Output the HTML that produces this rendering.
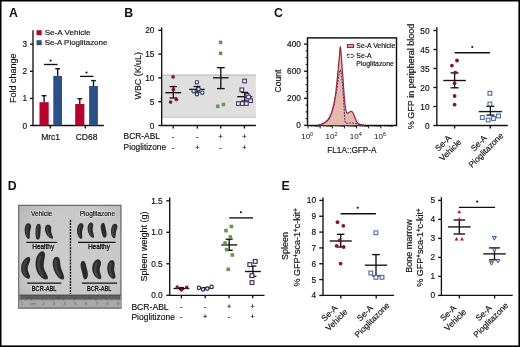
<!DOCTYPE html>
<html><head><meta charset="utf-8"><style>
html,body{margin:0;padding:0;background:#fff;width:520px;height:347px;overflow:hidden}
svg{display:block;will-change:transform}
text{font-family:"Liberation Sans", sans-serif}
</style></head><body>
<svg width="520" height="347" viewBox="0 0 520 347" font-family='"Liberation Sans", sans-serif'>
<rect width="520" height="347" fill="#fff"/>
<text x="9.00" y="17.30" font-size="12.3" text-anchor="start" font-weight="bold" fill="#111111" stroke="#111111" stroke-width="0" >A</text>
<text x="124.20" y="17.30" font-size="12.3" text-anchor="start" font-weight="bold" fill="#111111" stroke="#111111" stroke-width="0" >B</text>
<text x="273.90" y="17.30" font-size="12.3" text-anchor="start" font-weight="bold" fill="#111111" stroke="#111111" stroke-width="0" >C</text>
<text x="7.80" y="189.80" font-size="12.3" text-anchor="start" font-weight="bold" fill="#111111" stroke="#111111" stroke-width="0" >D</text>
<text x="281.60" y="189.60" font-size="12.3" text-anchor="start" font-weight="bold" fill="#111111" stroke="#111111" stroke-width="0" >E</text>
<line x1="33.00" y1="30.30" x2="33.00" y2="126.00" stroke="#111111" stroke-width="1.35" />
<line x1="30.00" y1="125.50" x2="33.00" y2="125.50" stroke="#111111" stroke-width="1.35" />
<text x="27.00" y="125.50" font-size="8.3" text-anchor="end" dominant-baseline="central" fill="#111111" stroke="#111111" stroke-width="0.16">0</text>
<line x1="30.00" y1="98.40" x2="33.00" y2="98.40" stroke="#111111" stroke-width="1.35" />
<text x="27.00" y="98.40" font-size="8.3" text-anchor="end" dominant-baseline="central" fill="#111111" stroke="#111111" stroke-width="0.16">1</text>
<line x1="30.00" y1="71.30" x2="33.00" y2="71.30" stroke="#111111" stroke-width="1.35" />
<text x="27.00" y="71.30" font-size="8.3" text-anchor="end" dominant-baseline="central" fill="#111111" stroke="#111111" stroke-width="0.16">2</text>
<line x1="30.00" y1="44.20" x2="33.00" y2="44.20" stroke="#111111" stroke-width="1.35" />
<text x="27.00" y="44.20" font-size="8.3" text-anchor="end" dominant-baseline="central" fill="#111111" stroke="#111111" stroke-width="0.16">3</text>
<line x1="32.50" y1="125.50" x2="103.90" y2="125.50" stroke="#111111" stroke-width="1.35" />
<line x1="50.30" y1="125.50" x2="50.30" y2="128.50" stroke="#111111" stroke-width="1.35" />
<line x1="85.30" y1="125.50" x2="85.30" y2="128.50" stroke="#111111" stroke-width="1.35" />
<line x1="44.10" y1="95.70" x2="44.10" y2="102.20" stroke="#111111" stroke-width="1.35" />
<line x1="41.70" y1="95.70" x2="46.50" y2="95.70" stroke="#111111" stroke-width="1.35" />
<rect x="39.50" y="102.20" width="9.20" height="23.30" fill="#b4042c" />
<line x1="57.65" y1="68.70" x2="57.65" y2="75.90" stroke="#111111" stroke-width="1.35" />
<line x1="55.25" y1="68.70" x2="60.05" y2="68.70" stroke="#111111" stroke-width="1.35" />
<rect x="53.30" y="75.90" width="8.70" height="49.60" fill="#2c4f86" />
<line x1="79.80" y1="98.70" x2="79.80" y2="104.00" stroke="#111111" stroke-width="1.35" />
<line x1="77.40" y1="98.70" x2="82.20" y2="98.70" stroke="#111111" stroke-width="1.35" />
<rect x="75.20" y="104.00" width="9.20" height="21.50" fill="#b4042c" />
<line x1="93.50" y1="80.60" x2="93.50" y2="86.00" stroke="#111111" stroke-width="1.35" />
<line x1="91.10" y1="80.60" x2="95.90" y2="80.60" stroke="#111111" stroke-width="1.35" />
<rect x="89.10" y="86.00" width="8.80" height="39.50" fill="#2c4f86" />
<line x1="44.10" y1="64.50" x2="57.60" y2="64.50" stroke="#111111" stroke-width="1.35" />
<circle cx="50.60" cy="60.60" r="1.05" fill="#111"/>
<line x1="80.10" y1="76.40" x2="93.50" y2="76.40" stroke="#111111" stroke-width="1.35" />
<circle cx="86.50" cy="72.50" r="1.05" fill="#111"/>
<text x="50.60" y="139.70" font-size="8.5" text-anchor="middle" font-weight="normal" fill="#111111" stroke="#111111" stroke-width="0.16" >Mrc1</text>
<text x="86.60" y="139.70" font-size="8.5" text-anchor="middle" font-weight="normal" fill="#111111" stroke="#111111" stroke-width="0.16" >CD68</text>
<text x="0" y="0" font-size="9.0" text-anchor="middle" dominant-baseline="central" font-weight="normal" fill="#111111" stroke="#111111" stroke-width="0.16" transform="translate(12.90 78.30) rotate(-90)" >Fold change</text>
<rect x="36.50" y="30.20" width="5.20" height="5.00" fill="#b4042c" />
<rect x="36.50" y="40.20" width="5.20" height="5.00" fill="#2c4f86" />
<text x="44.70" y="35.40" font-size="8.1" text-anchor="start" font-weight="normal" fill="#111111" stroke="#111111" stroke-width="0.16" >Se-A Vehicle</text>
<text x="44.70" y="45.40" font-size="7.95" text-anchor="start" font-weight="normal" fill="#111111" stroke="#111111" stroke-width="0.16" >Se-A Pioglitazone</text>
<rect x="162.20" y="75.00" width="93.70" height="42.50" fill="#dfdfdf" />
<line x1="162.20" y1="75.00" x2="255.90" y2="75.00" stroke="#b4b4b4" stroke-width="1.1" />
<line x1="162.20" y1="117.20" x2="255.90" y2="117.20" stroke="#c4c4c4" stroke-width="1.0" />
<line x1="161.65" y1="27.40" x2="161.65" y2="126.00" stroke="#111111" stroke-width="1.35" />
<line x1="158.30" y1="125.50" x2="161.65" y2="125.50" stroke="#111111" stroke-width="1.35" />
<text x="154.40" y="125.50" font-size="8.3" text-anchor="end" dominant-baseline="central" fill="#111111" stroke="#111111" stroke-width="0.16">0</text>
<line x1="158.30" y1="101.70" x2="161.65" y2="101.70" stroke="#111111" stroke-width="1.35" />
<text x="154.40" y="101.70" font-size="8.3" text-anchor="end" dominant-baseline="central" fill="#111111" stroke="#111111" stroke-width="0.16">5</text>
<line x1="158.30" y1="77.90" x2="161.65" y2="77.90" stroke="#111111" stroke-width="1.35" />
<text x="154.40" y="77.90" font-size="8.3" text-anchor="end" dominant-baseline="central" fill="#111111" stroke="#111111" stroke-width="0.16">10</text>
<line x1="158.30" y1="54.10" x2="161.65" y2="54.10" stroke="#111111" stroke-width="1.35" />
<text x="154.40" y="54.10" font-size="8.3" text-anchor="end" dominant-baseline="central" fill="#111111" stroke="#111111" stroke-width="0.16">15</text>
<line x1="158.30" y1="30.30" x2="161.65" y2="30.30" stroke="#111111" stroke-width="1.35" />
<text x="154.40" y="30.30" font-size="8.3" text-anchor="end" dominant-baseline="central" fill="#111111" stroke="#111111" stroke-width="0.16">20</text>
<line x1="161.15" y1="125.50" x2="255.90" y2="125.50" stroke="#111111" stroke-width="1.35" />
<line x1="173.20" y1="125.50" x2="173.20" y2="128.50" stroke="#111111" stroke-width="1.35" />
<line x1="197.30" y1="125.50" x2="197.30" y2="128.50" stroke="#111111" stroke-width="1.35" />
<line x1="220.70" y1="125.50" x2="220.70" y2="128.50" stroke="#111111" stroke-width="1.35" />
<line x1="244.40" y1="125.50" x2="244.40" y2="128.50" stroke="#111111" stroke-width="1.35" />
<text x="123.60" y="139.00" font-size="8.4" text-anchor="start" font-weight="normal" fill="#111111" stroke="#111111" stroke-width="0.16" >BCR-ABL</text>
<text x="123.60" y="149.50" font-size="8.3" text-anchor="start" font-weight="normal" fill="#111111" stroke="#111111" stroke-width="0.16" >Pioglitizone</text>
<text x="0" y="0" font-size="8" text-anchor="middle" dominant-baseline="central" font-weight="normal" fill="#111111" stroke="#111111" stroke-width="0.16" transform="translate(173.00 136.70) rotate(0)" >-</text>
<text x="0" y="0" font-size="8" text-anchor="middle" dominant-baseline="central" font-weight="normal" fill="#111111" stroke="#111111" stroke-width="0.16" transform="translate(173.00 147.00) rotate(0)" >-</text>
<text x="0" y="0" font-size="8" text-anchor="middle" dominant-baseline="central" font-weight="normal" fill="#111111" stroke="#111111" stroke-width="0.16" transform="translate(197.30 136.70) rotate(0)" >-</text>
<text x="0" y="0" font-size="8" text-anchor="middle" dominant-baseline="central" font-weight="normal" fill="#111111" stroke="#111111" stroke-width="0.16" transform="translate(197.30 147.00) rotate(0)" >+</text>
<text x="0" y="0" font-size="8" text-anchor="middle" dominant-baseline="central" font-weight="normal" fill="#111111" stroke="#111111" stroke-width="0.16" transform="translate(220.70 136.70) rotate(0)" >+</text>
<text x="0" y="0" font-size="8" text-anchor="middle" dominant-baseline="central" font-weight="normal" fill="#111111" stroke="#111111" stroke-width="0.16" transform="translate(220.70 147.00) rotate(0)" >-</text>
<text x="0" y="0" font-size="8" text-anchor="middle" dominant-baseline="central" font-weight="normal" fill="#111111" stroke="#111111" stroke-width="0.16" transform="translate(244.40 136.70) rotate(0)" >+</text>
<text x="0" y="0" font-size="8" text-anchor="middle" dominant-baseline="central" font-weight="normal" fill="#111111" stroke="#111111" stroke-width="0.16" transform="translate(244.40 147.00) rotate(0)" >+</text>
<line x1="165.40" y1="92.70" x2="181.20" y2="92.70" stroke="#111111" stroke-width="1.35" />
<line x1="173.30" y1="86.60" x2="173.30" y2="98.00" stroke="#111111" stroke-width="1.35" />
<line x1="169.55" y1="86.60" x2="177.05" y2="86.60" stroke="#111111" stroke-width="1.35" />
<line x1="169.55" y1="98.00" x2="177.05" y2="98.00" stroke="#111111" stroke-width="1.35" />
<circle cx="173.10" cy="76.80" r="1.85" fill="#8e0f36"/>
<circle cx="173.40" cy="89.60" r="1.85" fill="#8e0f36"/>
<circle cx="176.40" cy="99.40" r="1.85" fill="#8e0f36"/>
<circle cx="170.60" cy="102.00" r="1.85" fill="#8e0f36"/>
<line x1="189.25" y1="89.40" x2="204.75" y2="89.40" stroke="#111111" stroke-width="1.35" />
<line x1="197.00" y1="86.50" x2="197.00" y2="92.10" stroke="#111111" stroke-width="1.35" />
<line x1="193.55" y1="86.50" x2="200.45" y2="86.50" stroke="#111111" stroke-width="1.35" />
<line x1="193.55" y1="92.10" x2="200.45" y2="92.10" stroke="#111111" stroke-width="1.35" />
<circle cx="196.90" cy="82.20" r="1.7" fill="white" stroke="#26386a" stroke-width="1.1"/>
<circle cx="198.50" cy="89.00" r="1.7" fill="white" stroke="#26386a" stroke-width="1.1"/>
<circle cx="202.30" cy="92.70" r="1.7" fill="white" stroke="#26386a" stroke-width="1.1"/>
<circle cx="196.90" cy="94.30" r="1.7" fill="white" stroke="#26386a" stroke-width="1.1"/>
<circle cx="193.60" cy="91.20" r="1.7" fill="white" stroke="#26386a" stroke-width="1.1"/>
<line x1="213.05" y1="77.80" x2="228.55" y2="77.80" stroke="#111111" stroke-width="1.35" />
<line x1="220.80" y1="67.70" x2="220.80" y2="88.60" stroke="#111111" stroke-width="1.35" />
<line x1="216.90" y1="67.70" x2="224.70" y2="67.70" stroke="#111111" stroke-width="1.35" />
<line x1="216.90" y1="88.60" x2="224.70" y2="88.60" stroke="#111111" stroke-width="1.35" />
<rect x="218.85" y="40.65" width="3.5" height="3.5" fill="#65984f"/>
<rect x="218.85" y="51.65" width="3.5" height="3.5" fill="#65984f"/>
<rect x="215.95" y="104.55" width="3.5" height="3.5" fill="#65984f"/>
<rect x="221.65" y="102.75" width="3.5" height="3.5" fill="#65984f"/>
<line x1="237.20" y1="96.70" x2="252.20" y2="96.70" stroke="#111111" stroke-width="1.35" />
<line x1="244.70" y1="92.50" x2="244.70" y2="101.00" stroke="#111111" stroke-width="1.35" />
<line x1="241.20" y1="92.50" x2="248.20" y2="92.50" stroke="#111111" stroke-width="1.35" />
<line x1="241.20" y1="101.00" x2="248.20" y2="101.00" stroke="#111111" stroke-width="1.35" />
<rect x="242.80" y="79.20" width="3.6" height="3.6" fill="white" stroke="#4b3670" stroke-width="1.15"/>
<rect x="240.00" y="88.00" width="3.6" height="3.6" fill="white" stroke="#4b3670" stroke-width="1.15"/>
<rect x="245.30" y="93.50" width="3.6" height="3.6" fill="white" stroke="#4b3670" stroke-width="1.15"/>
<rect x="248.80" y="98.80" width="3.6" height="3.6" fill="white" stroke="#4b3670" stroke-width="1.15"/>
<rect x="236.60" y="101.80" width="3.6" height="3.6" fill="white" stroke="#4b3670" stroke-width="1.15"/>
<rect x="240.50" y="101.80" width="3.6" height="3.6" fill="white" stroke="#4b3670" stroke-width="1.15"/>
<rect x="244.60" y="101.80" width="3.6" height="3.6" fill="white" stroke="#4b3670" stroke-width="1.15"/>
<rect x="246.70" y="95.20" width="3.6" height="3.6" fill="white" stroke="#4b3670" stroke-width="1.15"/>
<text x="0" y="0" font-size="8.9" text-anchor="middle" dominant-baseline="central" font-weight="normal" fill="#111111" stroke="#111111" stroke-width="0.16" transform="translate(138.20 75.80) rotate(-90)" >WBC (K/uL)</text>
<rect x="307.5" y="37.9" width="89.0" height="87.6" fill="none" stroke="#111" stroke-width="1.4500000000000002"/>
<line x1="304.10" y1="44.10" x2="307.50" y2="44.10" stroke="#111111" stroke-width="1.35" />
<text x="300.90" y="44.10" font-size="8.3" text-anchor="end" dominant-baseline="central" fill="#111111" stroke="#111111" stroke-width="0.16">400</text>
<line x1="304.10" y1="71.20" x2="307.50" y2="71.20" stroke="#111111" stroke-width="1.35" />
<text x="300.90" y="71.20" font-size="8.3" text-anchor="end" dominant-baseline="central" fill="#111111" stroke="#111111" stroke-width="0.16">600</text>
<line x1="304.10" y1="98.30" x2="307.50" y2="98.30" stroke="#111111" stroke-width="1.35" />
<text x="300.90" y="98.30" font-size="8.3" text-anchor="end" dominant-baseline="central" fill="#111111" stroke="#111111" stroke-width="0.16">200</text>
<line x1="304.10" y1="125.40" x2="307.50" y2="125.40" stroke="#111111" stroke-width="1.35" />
<text x="300.90" y="125.40" font-size="8.3" text-anchor="end" dominant-baseline="central" fill="#111111" stroke="#111111" stroke-width="0.16">0</text>
<line x1="305.60" y1="118.62" x2="307.50" y2="118.62" stroke="#111111" stroke-width="1.0" />
<line x1="305.60" y1="111.85" x2="307.50" y2="111.85" stroke="#111111" stroke-width="1.0" />
<line x1="305.60" y1="105.08" x2="307.50" y2="105.08" stroke="#111111" stroke-width="1.0" />
<line x1="305.60" y1="91.53" x2="307.50" y2="91.53" stroke="#111111" stroke-width="1.0" />
<line x1="305.60" y1="84.75" x2="307.50" y2="84.75" stroke="#111111" stroke-width="1.0" />
<line x1="305.60" y1="77.97" x2="307.50" y2="77.97" stroke="#111111" stroke-width="1.0" />
<line x1="305.60" y1="64.43" x2="307.50" y2="64.43" stroke="#111111" stroke-width="1.0" />
<line x1="305.60" y1="57.65" x2="307.50" y2="57.65" stroke="#111111" stroke-width="1.0" />
<line x1="305.60" y1="50.88" x2="307.50" y2="50.88" stroke="#111111" stroke-width="1.0" />
<line x1="308.00" y1="125.40" x2="308.00" y2="128.40" stroke="#111111" stroke-width="1.0" />
<line x1="311.66" y1="125.40" x2="311.66" y2="126.90" stroke="#111111" stroke-width="0.6" />
<line x1="313.80" y1="125.40" x2="313.80" y2="126.90" stroke="#111111" stroke-width="0.6" />
<line x1="315.32" y1="125.40" x2="315.32" y2="126.90" stroke="#111111" stroke-width="0.6" />
<line x1="316.49" y1="125.40" x2="316.49" y2="126.90" stroke="#111111" stroke-width="0.6" />
<line x1="317.45" y1="125.40" x2="317.45" y2="126.90" stroke="#111111" stroke-width="0.6" />
<line x1="318.27" y1="125.40" x2="318.27" y2="126.90" stroke="#111111" stroke-width="0.6" />
<line x1="318.97" y1="125.40" x2="318.97" y2="126.90" stroke="#111111" stroke-width="0.6" />
<line x1="319.59" y1="125.40" x2="319.59" y2="126.90" stroke="#111111" stroke-width="0.6" />
<line x1="320.15" y1="125.40" x2="320.15" y2="128.40" stroke="#111111" stroke-width="1.0" />
<line x1="323.81" y1="125.40" x2="323.81" y2="126.90" stroke="#111111" stroke-width="0.6" />
<line x1="325.95" y1="125.40" x2="325.95" y2="126.90" stroke="#111111" stroke-width="0.6" />
<line x1="327.47" y1="125.40" x2="327.47" y2="126.90" stroke="#111111" stroke-width="0.6" />
<line x1="328.64" y1="125.40" x2="328.64" y2="126.90" stroke="#111111" stroke-width="0.6" />
<line x1="329.60" y1="125.40" x2="329.60" y2="126.90" stroke="#111111" stroke-width="0.6" />
<line x1="330.42" y1="125.40" x2="330.42" y2="126.90" stroke="#111111" stroke-width="0.6" />
<line x1="331.12" y1="125.40" x2="331.12" y2="126.90" stroke="#111111" stroke-width="0.6" />
<line x1="331.74" y1="125.40" x2="331.74" y2="126.90" stroke="#111111" stroke-width="0.6" />
<line x1="332.30" y1="125.40" x2="332.30" y2="128.40" stroke="#111111" stroke-width="1.0" />
<line x1="335.96" y1="125.40" x2="335.96" y2="126.90" stroke="#111111" stroke-width="0.6" />
<line x1="338.10" y1="125.40" x2="338.10" y2="126.90" stroke="#111111" stroke-width="0.6" />
<line x1="339.62" y1="125.40" x2="339.62" y2="126.90" stroke="#111111" stroke-width="0.6" />
<line x1="340.79" y1="125.40" x2="340.79" y2="126.90" stroke="#111111" stroke-width="0.6" />
<line x1="341.75" y1="125.40" x2="341.75" y2="126.90" stroke="#111111" stroke-width="0.6" />
<line x1="342.57" y1="125.40" x2="342.57" y2="126.90" stroke="#111111" stroke-width="0.6" />
<line x1="343.27" y1="125.40" x2="343.27" y2="126.90" stroke="#111111" stroke-width="0.6" />
<line x1="343.89" y1="125.40" x2="343.89" y2="126.90" stroke="#111111" stroke-width="0.6" />
<line x1="344.45" y1="125.40" x2="344.45" y2="128.40" stroke="#111111" stroke-width="1.0" />
<line x1="348.11" y1="125.40" x2="348.11" y2="126.90" stroke="#111111" stroke-width="0.6" />
<line x1="350.25" y1="125.40" x2="350.25" y2="126.90" stroke="#111111" stroke-width="0.6" />
<line x1="351.77" y1="125.40" x2="351.77" y2="126.90" stroke="#111111" stroke-width="0.6" />
<line x1="352.94" y1="125.40" x2="352.94" y2="126.90" stroke="#111111" stroke-width="0.6" />
<line x1="353.90" y1="125.40" x2="353.90" y2="126.90" stroke="#111111" stroke-width="0.6" />
<line x1="354.72" y1="125.40" x2="354.72" y2="126.90" stroke="#111111" stroke-width="0.6" />
<line x1="355.42" y1="125.40" x2="355.42" y2="126.90" stroke="#111111" stroke-width="0.6" />
<line x1="356.04" y1="125.40" x2="356.04" y2="126.90" stroke="#111111" stroke-width="0.6" />
<line x1="356.60" y1="125.40" x2="356.60" y2="128.40" stroke="#111111" stroke-width="1.0" />
<line x1="360.26" y1="125.40" x2="360.26" y2="126.90" stroke="#111111" stroke-width="0.6" />
<line x1="362.40" y1="125.40" x2="362.40" y2="126.90" stroke="#111111" stroke-width="0.6" />
<line x1="363.92" y1="125.40" x2="363.92" y2="126.90" stroke="#111111" stroke-width="0.6" />
<line x1="365.09" y1="125.40" x2="365.09" y2="126.90" stroke="#111111" stroke-width="0.6" />
<line x1="366.05" y1="125.40" x2="366.05" y2="126.90" stroke="#111111" stroke-width="0.6" />
<line x1="366.87" y1="125.40" x2="366.87" y2="126.90" stroke="#111111" stroke-width="0.6" />
<line x1="367.57" y1="125.40" x2="367.57" y2="126.90" stroke="#111111" stroke-width="0.6" />
<line x1="368.19" y1="125.40" x2="368.19" y2="126.90" stroke="#111111" stroke-width="0.6" />
<line x1="368.75" y1="125.40" x2="368.75" y2="128.40" stroke="#111111" stroke-width="1.0" />
<line x1="372.41" y1="125.40" x2="372.41" y2="126.90" stroke="#111111" stroke-width="0.6" />
<line x1="374.55" y1="125.40" x2="374.55" y2="126.90" stroke="#111111" stroke-width="0.6" />
<line x1="376.07" y1="125.40" x2="376.07" y2="126.90" stroke="#111111" stroke-width="0.6" />
<line x1="377.24" y1="125.40" x2="377.24" y2="126.90" stroke="#111111" stroke-width="0.6" />
<line x1="378.20" y1="125.40" x2="378.20" y2="126.90" stroke="#111111" stroke-width="0.6" />
<line x1="379.02" y1="125.40" x2="379.02" y2="126.90" stroke="#111111" stroke-width="0.6" />
<line x1="379.72" y1="125.40" x2="379.72" y2="126.90" stroke="#111111" stroke-width="0.6" />
<line x1="380.34" y1="125.40" x2="380.34" y2="126.90" stroke="#111111" stroke-width="0.6" />
<line x1="380.90" y1="125.40" x2="380.90" y2="128.40" stroke="#111111" stroke-width="1.0" />
<line x1="384.56" y1="125.40" x2="384.56" y2="126.90" stroke="#111111" stroke-width="0.6" />
<line x1="386.70" y1="125.40" x2="386.70" y2="126.90" stroke="#111111" stroke-width="0.6" />
<line x1="388.22" y1="125.40" x2="388.22" y2="126.90" stroke="#111111" stroke-width="0.6" />
<line x1="389.39" y1="125.40" x2="389.39" y2="126.90" stroke="#111111" stroke-width="0.6" />
<line x1="390.35" y1="125.40" x2="390.35" y2="126.90" stroke="#111111" stroke-width="0.6" />
<line x1="391.17" y1="125.40" x2="391.17" y2="126.90" stroke="#111111" stroke-width="0.6" />
<line x1="391.87" y1="125.40" x2="391.87" y2="126.90" stroke="#111111" stroke-width="0.6" />
<line x1="392.49" y1="125.40" x2="392.49" y2="126.90" stroke="#111111" stroke-width="0.6" />
<text x="307.20" y="139.3" font-size="8" text-anchor="middle" fill="#111111">10<tspan font-size="5.5" dy="-3.2">0</tspan></text>
<text x="331.50" y="139.3" font-size="8" text-anchor="middle" fill="#111111">10<tspan font-size="5.5" dy="-3.2">2</tspan></text>
<text x="355.80" y="139.3" font-size="8" text-anchor="middle" fill="#111111">10<tspan font-size="5.5" dy="-3.2">4</tspan></text>
<text x="380.10" y="139.3" font-size="8" text-anchor="middle" fill="#111111">10<tspan font-size="5.5" dy="-3.2">6</tspan></text>
<text x="0" y="0" font-size="9.1" text-anchor="middle" fill="#111111" stroke="#111111" stroke-width="0.16" transform="translate(351.9 152.8) scale(0.905 1)">FL1A::GFP-A</text>
<text x="0" y="0" font-size="8.5" text-anchor="middle" dominant-baseline="central" font-weight="normal" fill="#111111" stroke="#111111" stroke-width="0.16" transform="translate(277.60 81.10) rotate(-90)" >Count</text>
<path d="M317.50,125.00 C318.00,124.95 319.53,124.93 320.50,124.70 C321.47,124.47 322.42,124.12 323.30,123.60 C324.18,123.08 324.92,122.40 325.80,121.60 C326.68,120.80 327.70,120.15 328.60,118.80 C329.50,117.45 330.40,115.63 331.20,113.50 C332.00,111.37 332.77,108.58 333.40,106.00 C334.03,103.42 334.57,100.50 335.00,98.00 C335.43,95.50 335.70,93.50 336.00,91.00 C336.30,88.50 336.53,85.67 336.80,83.00 C337.07,80.33 337.32,77.83 337.60,75.00 C337.88,72.17 338.20,69.17 338.50,66.00 C338.80,62.83 339.17,58.75 339.40,56.00 C339.63,53.25 339.75,51.07 339.90,49.50 C340.05,47.93 340.15,46.60 340.30,46.60 C340.45,46.60 340.63,47.93 340.80,49.50 C340.97,51.07 341.10,53.25 341.30,56.00 C341.50,58.75 341.75,62.67 342.00,66.00 C342.25,69.33 342.55,72.67 342.80,76.00 C343.05,79.33 343.27,82.67 343.50,86.00 C343.73,89.33 343.97,93.08 344.20,96.00 C344.43,98.92 344.65,101.25 344.90,103.50 C345.15,105.75 345.38,107.95 345.70,109.50 C346.02,111.05 346.38,112.22 346.80,112.80 C347.22,113.38 347.73,113.13 348.20,113.00 C348.67,112.87 349.17,112.28 349.60,112.00 C350.03,111.72 350.40,111.37 350.80,111.30 C351.20,111.23 351.58,111.23 352.00,111.60 C352.42,111.97 352.88,112.68 353.30,113.50 C353.72,114.32 354.12,115.53 354.50,116.50 C354.88,117.47 355.18,118.38 355.60,119.30 C356.02,120.22 356.50,121.25 357.00,122.00 C357.50,122.75 357.93,123.35 358.60,123.80 C359.27,124.25 360.10,124.50 361.00,124.70 C361.90,124.90 363.50,124.95 364.00,125.00 L364,125.3 L317.5,125.3 Z" fill="#e6b8ad" stroke="none"/>
<path d="M318.50,124.90 C319.00,124.83 320.45,124.83 321.50,124.50 C322.55,124.17 323.75,123.57 324.80,122.90 C325.85,122.23 326.90,121.52 327.80,120.50 C328.70,119.48 329.45,118.30 330.20,116.80 C330.95,115.30 331.67,113.47 332.30,111.50 C332.93,109.53 333.47,107.42 334.00,105.00 C334.53,102.58 335.03,99.60 335.50,97.00 C335.97,94.40 336.38,92.15 336.80,89.40 C337.22,86.65 337.63,83.07 338.00,80.50 C338.37,77.93 338.70,75.65 339.00,74.00 C339.30,72.35 339.58,71.27 339.80,70.60 C340.02,69.93 340.12,69.85 340.30,70.00 C340.48,70.15 340.68,70.50 340.90,71.50 C341.12,72.50 341.37,74.25 341.60,76.00 C341.83,77.75 342.08,79.77 342.30,82.00 C342.52,84.23 342.70,86.57 342.90,89.40 C343.10,92.23 343.30,95.90 343.50,99.00 C343.70,102.10 343.93,105.25 344.10,108.00 C344.27,110.75 344.37,113.42 344.50,115.50 C344.63,117.58 344.72,119.28 344.90,120.50 C345.08,121.72 345.25,122.33 345.60,122.80 C345.95,123.27 346.27,123.27 347.00,123.30 C347.73,123.33 349.00,123.05 350.00,123.00 C351.00,122.95 352.00,122.90 353.00,123.00 C354.00,123.10 355.00,123.37 356.00,123.60 C357.00,123.83 358.00,124.18 359.00,124.40 C360.00,124.62 361.50,124.82 362.00,124.90" fill="none" stroke="#2c3a74" stroke-width="1.1" stroke-dasharray="1.8,1.2"/>
<path d="M317.50,125.00 C318.00,124.95 319.53,124.93 320.50,124.70 C321.47,124.47 322.42,124.12 323.30,123.60 C324.18,123.08 324.92,122.40 325.80,121.60 C326.68,120.80 327.70,120.15 328.60,118.80 C329.50,117.45 330.40,115.63 331.20,113.50 C332.00,111.37 332.77,108.58 333.40,106.00 C334.03,103.42 334.57,100.50 335.00,98.00 C335.43,95.50 335.70,93.50 336.00,91.00 C336.30,88.50 336.53,85.67 336.80,83.00 C337.07,80.33 337.32,77.83 337.60,75.00 C337.88,72.17 338.20,69.17 338.50,66.00 C338.80,62.83 339.17,58.75 339.40,56.00 C339.63,53.25 339.75,51.07 339.90,49.50 C340.05,47.93 340.15,46.60 340.30,46.60 C340.45,46.60 340.63,47.93 340.80,49.50 C340.97,51.07 341.10,53.25 341.30,56.00 C341.50,58.75 341.75,62.67 342.00,66.00 C342.25,69.33 342.55,72.67 342.80,76.00 C343.05,79.33 343.27,82.67 343.50,86.00 C343.73,89.33 343.97,93.08 344.20,96.00 C344.43,98.92 344.65,101.25 344.90,103.50 C345.15,105.75 345.38,107.95 345.70,109.50 C346.02,111.05 346.38,112.22 346.80,112.80 C347.22,113.38 347.73,113.13 348.20,113.00 C348.67,112.87 349.17,112.28 349.60,112.00 C350.03,111.72 350.40,111.37 350.80,111.30 C351.20,111.23 351.58,111.23 352.00,111.60 C352.42,111.97 352.88,112.68 353.30,113.50 C353.72,114.32 354.12,115.53 354.50,116.50 C354.88,117.47 355.18,118.38 355.60,119.30 C356.02,120.22 356.50,121.25 357.00,122.00 C357.50,122.75 357.93,123.35 358.60,123.80 C359.27,124.25 360.10,124.50 361.00,124.70 C361.90,124.90 363.50,124.95 364.00,125.00" fill="none" stroke="#9c2440" stroke-width="1.2"/>
<rect x="347.4" y="44.6" width="6.2" height="2.8" fill="#e8b6b4" stroke="#8e1f38" stroke-width="1.1"/>
<rect x="347.3" y="54.4" width="6.4" height="3.0" fill="none" stroke="#2c3a74" stroke-width="1.0" stroke-dasharray="2.2,1.2"/>
<text x="356.30" y="47.90" font-size="6.9" text-anchor="start" font-weight="normal" fill="#111111" stroke="#111111" stroke-width="0.16" >Se-A Vehicle</text>
<text x="356.30" y="57.50" font-size="6.9" text-anchor="start" font-weight="normal" fill="#111111" stroke="#111111" stroke-width="0.16" >Se-A</text>
<text x="356.30" y="65.70" font-size="6.9" text-anchor="start" font-weight="normal" fill="#111111" stroke="#111111" stroke-width="0.16" >Pioglitazone</text>
<line x1="436.85" y1="27.30" x2="436.85" y2="126.00" stroke="#111111" stroke-width="1.35" />
<line x1="433.40" y1="125.50" x2="436.85" y2="125.50" stroke="#111111" stroke-width="1.35" />
<text x="429.50" y="125.50" font-size="8.3" text-anchor="end" dominant-baseline="central" fill="#111111" stroke="#111111" stroke-width="0.16">0</text>
<line x1="433.40" y1="106.50" x2="436.85" y2="106.50" stroke="#111111" stroke-width="1.35" />
<text x="429.50" y="106.50" font-size="8.3" text-anchor="end" dominant-baseline="central" fill="#111111" stroke="#111111" stroke-width="0.16">10</text>
<line x1="433.40" y1="87.50" x2="436.85" y2="87.50" stroke="#111111" stroke-width="1.35" />
<text x="429.50" y="87.50" font-size="8.3" text-anchor="end" dominant-baseline="central" fill="#111111" stroke="#111111" stroke-width="0.16">20</text>
<line x1="433.40" y1="68.50" x2="436.85" y2="68.50" stroke="#111111" stroke-width="1.35" />
<text x="429.50" y="68.50" font-size="8.3" text-anchor="end" dominant-baseline="central" fill="#111111" stroke="#111111" stroke-width="0.16">35</text>
<line x1="433.40" y1="49.50" x2="436.85" y2="49.50" stroke="#111111" stroke-width="1.35" />
<text x="429.50" y="49.50" font-size="8.3" text-anchor="end" dominant-baseline="central" fill="#111111" stroke="#111111" stroke-width="0.16">45</text>
<line x1="433.40" y1="30.50" x2="436.85" y2="30.50" stroke="#111111" stroke-width="1.35" />
<text x="429.50" y="30.50" font-size="8.3" text-anchor="end" dominant-baseline="central" fill="#111111" stroke="#111111" stroke-width="0.16">50</text>
<line x1="436.35" y1="125.50" x2="507.80" y2="125.50" stroke="#111111" stroke-width="1.35" />
<line x1="454.60" y1="125.50" x2="454.60" y2="128.50" stroke="#111111" stroke-width="1.35" />
<line x1="490.20" y1="125.50" x2="490.20" y2="128.50" stroke="#111111" stroke-width="1.35" />
<text x="0" y="0" font-size="9.0" text-anchor="middle" dominant-baseline="central" font-weight="normal" fill="#111111" stroke="#111111" stroke-width="0.16" transform="translate(411.30 76.50) rotate(-90)" >% GFP in peripheral blood</text>
<line x1="443.35" y1="80.50" x2="465.85" y2="80.50" stroke="#111111" stroke-width="1.35" />
<line x1="454.60" y1="72.90" x2="454.60" y2="87.80" stroke="#111111" stroke-width="1.35" />
<line x1="450.60" y1="72.90" x2="458.60" y2="72.90" stroke="#111111" stroke-width="1.35" />
<line x1="450.60" y1="87.80" x2="458.60" y2="87.80" stroke="#111111" stroke-width="1.35" />
<circle cx="451.90" cy="65.60" r="1.9" fill="#8e0f36"/>
<circle cx="457.00" cy="60.50" r="1.9" fill="#8e0f36"/>
<circle cx="455.30" cy="72.60" r="1.9" fill="#8e0f36"/>
<circle cx="454.60" cy="83.30" r="1.9" fill="#8e0f36"/>
<circle cx="454.60" cy="96.00" r="1.9" fill="#8e0f36"/>
<circle cx="454.60" cy="104.70" r="1.9" fill="#8e0f36"/>
<line x1="478.80" y1="111.60" x2="502.00" y2="111.60" stroke="#111111" stroke-width="1.35" />
<line x1="490.40" y1="106.40" x2="490.40" y2="115.10" stroke="#111111" stroke-width="1.35" />
<line x1="486.40" y1="106.40" x2="494.40" y2="106.40" stroke="#111111" stroke-width="1.35" />
<line x1="486.40" y1="115.10" x2="494.40" y2="115.10" stroke="#111111" stroke-width="1.35" />
<rect x="488.00" y="91.40" width="3.8" height="3.8" fill="white" stroke="#45659c" stroke-width="1.05"/>
<rect x="488.00" y="102.10" width="3.8" height="3.8" fill="white" stroke="#45659c" stroke-width="1.05"/>
<rect x="480.40" y="115.60" width="3.8" height="3.8" fill="white" stroke="#45659c" stroke-width="1.05"/>
<rect x="486.30" y="118.10" width="3.8" height="3.8" fill="white" stroke="#45659c" stroke-width="1.05"/>
<rect x="491.60" y="116.60" width="3.8" height="3.8" fill="white" stroke="#45659c" stroke-width="1.05"/>
<rect x="496.60" y="114.10" width="3.8" height="3.8" fill="white" stroke="#45659c" stroke-width="1.05"/>
<line x1="454.60" y1="52.70" x2="489.90" y2="52.70" stroke="#111111" stroke-width="1.35" />
<circle cx="472.25" cy="47.00" r="1.05" fill="#111"/>
<text x="0" y="0" font-size="8.3" text-anchor="middle" dominant-baseline="central" font-weight="normal" fill="#111111" stroke="#111111" stroke-width="0.16" transform="translate(443.00 143.10) rotate(-45)" >Se-A</text>
<text x="0" y="0" font-size="8.3" text-anchor="middle" dominant-baseline="central" font-weight="normal" fill="#111111" stroke="#111111" stroke-width="0.16" transform="translate(450.20 150.00) rotate(-45)" >Vehicle</text>
<text x="0" y="0" font-size="8.3" text-anchor="middle" dominant-baseline="central" font-weight="normal" fill="#111111" stroke="#111111" stroke-width="0.16" transform="translate(478.60 143.10) rotate(-45)" >Se-A</text>
<text x="0" y="0" font-size="8.3" text-anchor="middle" dominant-baseline="central" font-weight="normal" fill="#111111" stroke="#111111" stroke-width="0.16" transform="translate(485.80 150.00) rotate(-45)" >Pioglitazone</text>

<defs>
<radialGradient id="pg" cx="0.55" cy="0.5" r="0.8">
<stop offset="0" stop-color="#cdcdcd"/><stop offset="0.6" stop-color="#c7c7c7"/><stop offset="1" stop-color="#b2b2b2"/>
</radialGradient>
<filter id="bl" x="-30%" y="-30%" width="160%" height="160%"><feGaussianBlur stdDeviation="0.55"/></filter>
<filter id="bl2" x="-10%" y="-10%" width="120%" height="120%"><feGaussianBlur stdDeviation="0.35"/></filter>
</defs>
<rect x="18.1" y="204.8" width="103.4" height="104.0" fill="url(#pg)"/>
<rect x="18.7" y="205.4" width="102.2" height="102.8" fill="none" stroke="#6e6e6e" stroke-width="1.2"/>

<g filter="url(#bl2)">
<rect x="19.3" y="294.6" width="101.6" height="13.4" fill="#a9a9a9"/>
<rect x="19.3" y="294.6" width="101.6" height="1.5" fill="#505050"/>
<rect x="19.3" y="296.1" width="101.6" height="4.1" fill="#7e7e7e"/>
<rect x="19.3" y="306.9" width="101.6" height="1.2" fill="#8a8a8a"/>
<line x1="21.00" y1="296.10" x2="21.00" y2="300.30" stroke="#3a3a3a" stroke-width="0.6" />
<line x1="22.07" y1="296.10" x2="22.07" y2="298.90" stroke="#3a3a3a" stroke-width="0.6" />
<line x1="23.14" y1="296.10" x2="23.14" y2="298.90" stroke="#3a3a3a" stroke-width="0.6" />
<line x1="24.21" y1="296.10" x2="24.21" y2="298.90" stroke="#3a3a3a" stroke-width="0.6" />
<line x1="25.28" y1="296.10" x2="25.28" y2="298.90" stroke="#3a3a3a" stroke-width="0.6" />
<line x1="26.35" y1="296.10" x2="26.35" y2="299.50" stroke="#3a3a3a" stroke-width="0.6" />
<line x1="27.42" y1="296.10" x2="27.42" y2="298.90" stroke="#3a3a3a" stroke-width="0.6" />
<line x1="28.49" y1="296.10" x2="28.49" y2="298.90" stroke="#3a3a3a" stroke-width="0.6" />
<line x1="29.56" y1="296.10" x2="29.56" y2="298.90" stroke="#3a3a3a" stroke-width="0.6" />
<line x1="30.63" y1="296.10" x2="30.63" y2="298.90" stroke="#3a3a3a" stroke-width="0.6" />
<line x1="31.70" y1="296.10" x2="31.70" y2="300.30" stroke="#3a3a3a" stroke-width="0.6" />
<line x1="32.77" y1="296.10" x2="32.77" y2="298.90" stroke="#3a3a3a" stroke-width="0.6" />
<line x1="33.84" y1="296.10" x2="33.84" y2="298.90" stroke="#3a3a3a" stroke-width="0.6" />
<line x1="34.91" y1="296.10" x2="34.91" y2="298.90" stroke="#3a3a3a" stroke-width="0.6" />
<line x1="35.98" y1="296.10" x2="35.98" y2="298.90" stroke="#3a3a3a" stroke-width="0.6" />
<line x1="37.05" y1="296.10" x2="37.05" y2="299.50" stroke="#3a3a3a" stroke-width="0.6" />
<line x1="38.12" y1="296.10" x2="38.12" y2="298.90" stroke="#3a3a3a" stroke-width="0.6" />
<line x1="39.19" y1="296.10" x2="39.19" y2="298.90" stroke="#3a3a3a" stroke-width="0.6" />
<line x1="40.26" y1="296.10" x2="40.26" y2="298.90" stroke="#3a3a3a" stroke-width="0.6" />
<line x1="41.33" y1="296.10" x2="41.33" y2="298.90" stroke="#3a3a3a" stroke-width="0.6" />
<line x1="42.40" y1="296.10" x2="42.40" y2="300.30" stroke="#3a3a3a" stroke-width="0.6" />
<line x1="43.47" y1="296.10" x2="43.47" y2="298.90" stroke="#3a3a3a" stroke-width="0.6" />
<line x1="44.54" y1="296.10" x2="44.54" y2="298.90" stroke="#3a3a3a" stroke-width="0.6" />
<line x1="45.61" y1="296.10" x2="45.61" y2="298.90" stroke="#3a3a3a" stroke-width="0.6" />
<line x1="46.68" y1="296.10" x2="46.68" y2="298.90" stroke="#3a3a3a" stroke-width="0.6" />
<line x1="47.75" y1="296.10" x2="47.75" y2="299.50" stroke="#3a3a3a" stroke-width="0.6" />
<line x1="48.82" y1="296.10" x2="48.82" y2="298.90" stroke="#3a3a3a" stroke-width="0.6" />
<line x1="49.89" y1="296.10" x2="49.89" y2="298.90" stroke="#3a3a3a" stroke-width="0.6" />
<line x1="50.96" y1="296.10" x2="50.96" y2="298.90" stroke="#3a3a3a" stroke-width="0.6" />
<line x1="52.03" y1="296.10" x2="52.03" y2="298.90" stroke="#3a3a3a" stroke-width="0.6" />
<line x1="53.10" y1="296.10" x2="53.10" y2="300.30" stroke="#3a3a3a" stroke-width="0.6" />
<line x1="54.17" y1="296.10" x2="54.17" y2="298.90" stroke="#3a3a3a" stroke-width="0.6" />
<line x1="55.24" y1="296.10" x2="55.24" y2="298.90" stroke="#3a3a3a" stroke-width="0.6" />
<line x1="56.31" y1="296.10" x2="56.31" y2="298.90" stroke="#3a3a3a" stroke-width="0.6" />
<line x1="57.38" y1="296.10" x2="57.38" y2="298.90" stroke="#3a3a3a" stroke-width="0.6" />
<line x1="58.45" y1="296.10" x2="58.45" y2="299.50" stroke="#3a3a3a" stroke-width="0.6" />
<line x1="59.52" y1="296.10" x2="59.52" y2="298.90" stroke="#3a3a3a" stroke-width="0.6" />
<line x1="60.59" y1="296.10" x2="60.59" y2="298.90" stroke="#3a3a3a" stroke-width="0.6" />
<line x1="61.66" y1="296.10" x2="61.66" y2="298.90" stroke="#3a3a3a" stroke-width="0.6" />
<line x1="62.73" y1="296.10" x2="62.73" y2="298.90" stroke="#3a3a3a" stroke-width="0.6" />
<line x1="63.80" y1="296.10" x2="63.80" y2="300.30" stroke="#3a3a3a" stroke-width="0.6" />
<line x1="64.87" y1="296.10" x2="64.87" y2="298.90" stroke="#3a3a3a" stroke-width="0.6" />
<line x1="65.94" y1="296.10" x2="65.94" y2="298.90" stroke="#3a3a3a" stroke-width="0.6" />
<line x1="67.01" y1="296.10" x2="67.01" y2="298.90" stroke="#3a3a3a" stroke-width="0.6" />
<line x1="68.08" y1="296.10" x2="68.08" y2="298.90" stroke="#3a3a3a" stroke-width="0.6" />
<line x1="69.15" y1="296.10" x2="69.15" y2="299.50" stroke="#3a3a3a" stroke-width="0.6" />
<line x1="70.22" y1="296.10" x2="70.22" y2="298.90" stroke="#3a3a3a" stroke-width="0.6" />
<line x1="71.29" y1="296.10" x2="71.29" y2="298.90" stroke="#3a3a3a" stroke-width="0.6" />
<line x1="72.36" y1="296.10" x2="72.36" y2="298.90" stroke="#3a3a3a" stroke-width="0.6" />
<line x1="73.43" y1="296.10" x2="73.43" y2="298.90" stroke="#3a3a3a" stroke-width="0.6" />
<line x1="74.50" y1="296.10" x2="74.50" y2="300.30" stroke="#3a3a3a" stroke-width="0.6" />
<line x1="75.57" y1="296.10" x2="75.57" y2="298.90" stroke="#3a3a3a" stroke-width="0.6" />
<line x1="76.64" y1="296.10" x2="76.64" y2="298.90" stroke="#3a3a3a" stroke-width="0.6" />
<line x1="77.71" y1="296.10" x2="77.71" y2="298.90" stroke="#3a3a3a" stroke-width="0.6" />
<line x1="78.78" y1="296.10" x2="78.78" y2="298.90" stroke="#3a3a3a" stroke-width="0.6" />
<line x1="79.85" y1="296.10" x2="79.85" y2="299.50" stroke="#3a3a3a" stroke-width="0.6" />
<line x1="80.92" y1="296.10" x2="80.92" y2="298.90" stroke="#3a3a3a" stroke-width="0.6" />
<line x1="81.99" y1="296.10" x2="81.99" y2="298.90" stroke="#3a3a3a" stroke-width="0.6" />
<line x1="83.06" y1="296.10" x2="83.06" y2="298.90" stroke="#3a3a3a" stroke-width="0.6" />
<line x1="84.13" y1="296.10" x2="84.13" y2="298.90" stroke="#3a3a3a" stroke-width="0.6" />
<line x1="85.20" y1="296.10" x2="85.20" y2="300.30" stroke="#3a3a3a" stroke-width="0.6" />
<line x1="86.27" y1="296.10" x2="86.27" y2="298.90" stroke="#3a3a3a" stroke-width="0.6" />
<line x1="87.34" y1="296.10" x2="87.34" y2="298.90" stroke="#3a3a3a" stroke-width="0.6" />
<line x1="88.41" y1="296.10" x2="88.41" y2="298.90" stroke="#3a3a3a" stroke-width="0.6" />
<line x1="89.48" y1="296.10" x2="89.48" y2="298.90" stroke="#3a3a3a" stroke-width="0.6" />
<line x1="90.55" y1="296.10" x2="90.55" y2="299.50" stroke="#3a3a3a" stroke-width="0.6" />
<line x1="91.62" y1="296.10" x2="91.62" y2="298.90" stroke="#3a3a3a" stroke-width="0.6" />
<line x1="92.69" y1="296.10" x2="92.69" y2="298.90" stroke="#3a3a3a" stroke-width="0.6" />
<line x1="93.76" y1="296.10" x2="93.76" y2="298.90" stroke="#3a3a3a" stroke-width="0.6" />
<line x1="94.83" y1="296.10" x2="94.83" y2="298.90" stroke="#3a3a3a" stroke-width="0.6" />
<line x1="95.90" y1="296.10" x2="95.90" y2="300.30" stroke="#3a3a3a" stroke-width="0.6" />
<line x1="96.97" y1="296.10" x2="96.97" y2="298.90" stroke="#3a3a3a" stroke-width="0.6" />
<line x1="98.04" y1="296.10" x2="98.04" y2="298.90" stroke="#3a3a3a" stroke-width="0.6" />
<line x1="99.11" y1="296.10" x2="99.11" y2="298.90" stroke="#3a3a3a" stroke-width="0.6" />
<line x1="100.18" y1="296.10" x2="100.18" y2="298.90" stroke="#3a3a3a" stroke-width="0.6" />
<line x1="101.25" y1="296.10" x2="101.25" y2="299.50" stroke="#3a3a3a" stroke-width="0.6" />
<line x1="102.32" y1="296.10" x2="102.32" y2="298.90" stroke="#3a3a3a" stroke-width="0.6" />
<line x1="103.39" y1="296.10" x2="103.39" y2="298.90" stroke="#3a3a3a" stroke-width="0.6" />
<line x1="104.46" y1="296.10" x2="104.46" y2="298.90" stroke="#3a3a3a" stroke-width="0.6" />
<line x1="105.53" y1="296.10" x2="105.53" y2="298.90" stroke="#3a3a3a" stroke-width="0.6" />
<line x1="106.60" y1="296.10" x2="106.60" y2="300.30" stroke="#3a3a3a" stroke-width="0.6" />
<line x1="107.67" y1="296.10" x2="107.67" y2="298.90" stroke="#3a3a3a" stroke-width="0.6" />
<line x1="108.74" y1="296.10" x2="108.74" y2="298.90" stroke="#3a3a3a" stroke-width="0.6" />
<line x1="109.81" y1="296.10" x2="109.81" y2="298.90" stroke="#3a3a3a" stroke-width="0.6" />
<line x1="110.88" y1="296.10" x2="110.88" y2="298.90" stroke="#3a3a3a" stroke-width="0.6" />
<line x1="111.95" y1="296.10" x2="111.95" y2="299.50" stroke="#3a3a3a" stroke-width="0.6" />
<line x1="113.02" y1="296.10" x2="113.02" y2="298.90" stroke="#3a3a3a" stroke-width="0.6" />
<line x1="114.09" y1="296.10" x2="114.09" y2="298.90" stroke="#3a3a3a" stroke-width="0.6" />
<line x1="115.16" y1="296.10" x2="115.16" y2="298.90" stroke="#3a3a3a" stroke-width="0.6" />
<line x1="116.23" y1="296.10" x2="116.23" y2="298.90" stroke="#3a3a3a" stroke-width="0.6" />
<line x1="117.30" y1="296.10" x2="117.30" y2="300.30" stroke="#3a3a3a" stroke-width="0.6" />
<line x1="118.37" y1="296.10" x2="118.37" y2="298.90" stroke="#3a3a3a" stroke-width="0.6" />
<line x1="119.44" y1="296.10" x2="119.44" y2="298.90" stroke="#3a3a3a" stroke-width="0.6" />
<text x="22.00" y="305.0" font-size="4.4" text-anchor="middle" fill="#5a5a5a">1</text>
<text x="33.00" y="305.0" font-size="4.4" text-anchor="middle" fill="#5a5a5a">cm</text>
<text x="43.40" y="305.0" font-size="4.4" text-anchor="middle" fill="#5a5a5a">2</text>
<text x="54.10" y="305.0" font-size="4.4" text-anchor="middle" fill="#5a5a5a">3</text>
<text x="64.80" y="305.0" font-size="4.4" text-anchor="middle" fill="#5a5a5a">4</text>
<text x="75.50" y="305.0" font-size="4.4" text-anchor="middle" fill="#5a5a5a">5</text>
<text x="86.20" y="305.0" font-size="4.4" text-anchor="middle" fill="#5a5a5a">6</text>
<text x="96.90" y="305.0" font-size="4.4" text-anchor="middle" fill="#5a5a5a">7</text>
<text x="107.60" y="305.0" font-size="4.4" text-anchor="middle" fill="#5a5a5a">8</text>
<text x="118.30" y="305.0" font-size="4.4" text-anchor="middle" fill="#5a5a5a">9</text>
</g>
<path d="M29.60,223.50 L27.86,223.25 L27.08,223.58 L26.51,224.04 L26.06,224.56 L25.70,225.13 L25.41,225.73 L25.18,226.35 L25.00,226.99 L24.87,227.63 L24.77,228.28 L24.71,228.94 L24.68,229.59 L24.68,230.24 L24.70,230.90 L24.75,231.55 L24.81,232.19 L24.91,232.84 L25.03,233.48 L25.18,234.11 L25.36,234.74 L25.58,235.37 L25.83,235.98 L26.12,236.58 L26.46,237.17 L26.86,237.73 L27.32,238.27 L27.89,238.75 L29.00,239.00 L29.00,239.00 L29.63,238.07 L29.76,237.39 L29.82,236.76 L29.85,236.16 L29.86,235.59 L29.87,235.04 L29.87,234.51 L29.88,233.99 L29.89,233.49 L29.91,232.99 L29.94,232.51 L29.98,232.03 L30.03,231.56 L30.10,231.10 L30.18,230.65 L30.28,230.21 L30.39,229.76 L30.51,229.33 L30.63,228.89 L30.75,228.46 L30.87,228.02 L30.97,227.57 L31.06,227.11 L31.11,226.62 L31.11,226.09 L31.02,225.50 L30.78,224.79 L29.60,223.50 Z" fill="#2a2a2a" filter="url(#bl)"/>
<path d="M27.18,225.02 L26.96,225.60 L26.76,226.18 L26.57,226.76 L26.41,227.35 L26.27,227.94 L26.15,228.54 L26.06,229.13 L25.98,229.73 L25.92,230.34 L25.89,230.94 L25.88,231.55 L25.88,232.16 L25.91,232.77 L25.96,233.38 L26.04,234.00 L26.13,234.62 L26.24,235.23 L26.38,235.85 L26.53,236.47 L26.71,237.09 L28.36,236.60 L28.20,236.03 L28.06,235.46 L27.94,234.90 L27.83,234.33 L27.75,233.77 L27.68,233.21 L27.64,232.66 L27.61,232.11 L27.60,231.56 L27.62,231.01 L27.65,230.46 L27.70,229.92 L27.77,229.38 L27.85,228.84 L27.96,228.31 L28.09,227.78 L28.23,227.25 L28.40,226.72 L28.58,226.20 L28.78,225.67 Z" fill="#5a5a5a" opacity="0.55" filter="url(#bl)"/>
<path d="M39.00,223.80 L37.67,224.10 L37.14,224.57 L36.77,225.08 L36.49,225.61 L36.26,226.15 L36.09,226.71 L35.95,227.27 L35.84,227.84 L35.75,228.42 L35.68,229.00 L35.62,229.58 L35.57,230.16 L35.54,230.75 L35.50,231.34 L35.48,231.94 L35.46,232.53 L35.45,233.13 L35.45,233.73 L35.46,234.33 L35.50,234.93 L35.55,235.54 L35.63,236.14 L35.74,236.75 L35.89,237.36 L36.10,237.96 L36.40,238.56 L36.83,239.16 L38.00,239.70 L38.00,239.70 L39.10,239.04 L39.48,238.43 L39.73,237.84 L39.90,237.25 L40.03,236.68 L40.13,236.10 L40.20,235.54 L40.26,234.97 L40.31,234.41 L40.35,233.86 L40.38,233.30 L40.42,232.75 L40.45,232.20 L40.50,231.66 L40.54,231.11 L40.59,230.57 L40.64,230.04 L40.69,229.50 L40.74,228.97 L40.78,228.44 L40.80,227.90 L40.81,227.37 L40.79,226.83 L40.74,226.29 L40.64,225.74 L40.45,225.17 L40.12,224.57 L39.00,223.80 Z" fill="#2a2a2a" filter="url(#bl)"/>
<path d="M37.23,225.73 L37.14,226.29 L37.06,226.84 L36.99,227.41 L36.92,227.97 L36.85,228.54 L36.79,229.11 L36.74,229.68 L36.69,230.26 L36.64,230.83 L36.60,231.41 L36.57,231.99 L36.54,232.58 L36.52,233.17 L36.50,233.75 L36.49,234.35 L36.48,234.94 L36.48,235.54 L36.48,236.14 L36.49,236.74 L36.50,237.34 L38.10,237.30 L38.09,236.71 L38.08,236.12 L38.08,235.54 L38.08,234.95 L38.09,234.37 L38.10,233.80 L38.12,233.22 L38.14,232.65 L38.17,232.08 L38.20,231.51 L38.24,230.95 L38.28,230.39 L38.33,229.83 L38.38,229.27 L38.44,228.71 L38.50,228.16 L38.57,227.61 L38.65,227.07 L38.73,226.52 L38.81,225.98 Z" fill="#5a5a5a" opacity="0.55" filter="url(#bl)"/>
<path d="M49.20,224.80 L47.33,224.65 L46.55,225.05 L46.01,225.58 L45.61,226.17 L45.32,226.80 L45.12,227.46 L45.00,228.13 L44.95,228.81 L44.96,229.48 L45.02,230.16 L45.13,230.82 L45.28,231.48 L45.47,232.12 L45.70,232.74 L45.96,233.35 L46.25,233.95 L46.58,234.53 L46.93,235.09 L47.33,235.63 L47.75,236.14 L48.22,236.64 L48.71,237.10 L49.25,237.54 L49.83,237.94 L50.45,238.30 L51.13,238.60 L51.88,238.81 L53.00,238.60 L53.00,238.60 L53.10,237.48 L52.90,236.79 L52.67,236.18 L52.44,235.61 L52.22,235.09 L52.02,234.59 L51.83,234.11 L51.67,233.66 L51.52,233.23 L51.39,232.81 L51.29,232.40 L51.20,232.01 L51.14,231.63 L51.10,231.26 L51.08,230.89 L51.08,230.54 L51.10,230.19 L51.13,229.85 L51.17,229.51 L51.21,229.17 L51.25,228.82 L51.27,228.46 L51.27,228.08 L51.23,227.67 L51.14,227.21 L50.96,226.68 L50.60,226.02 L49.20,224.80 Z" fill="#2a2a2a" filter="url(#bl)"/>
<path d="M46.91,226.51 L46.76,227.11 L46.65,227.71 L46.57,228.30 L46.52,228.90 L46.50,229.49 L46.51,230.08 L46.56,230.67 L46.64,231.26 L46.75,231.84 L46.89,232.42 L47.06,232.99 L47.27,233.55 L47.50,234.11 L47.77,234.66 L48.06,235.21 L48.39,235.74 L48.74,236.27 L49.12,236.79 L49.53,237.31 L49.96,237.82 L51.30,236.63 L50.91,236.17 L50.55,235.71 L50.21,235.25 L49.90,234.78 L49.62,234.31 L49.36,233.84 L49.14,233.37 L48.94,232.90 L48.76,232.42 L48.62,231.94 L48.50,231.46 L48.40,230.97 L48.34,230.48 L48.30,229.99 L48.29,229.50 L48.31,229.00 L48.35,228.50 L48.42,228.00 L48.51,227.49 L48.64,226.98 Z" fill="#5a5a5a" opacity="0.55" filter="url(#bl)"/>
<path d="M82.40,223.40 L80.76,223.10 L79.96,223.42 L79.34,223.86 L78.84,224.39 L78.42,224.96 L78.07,225.57 L77.78,226.20 L77.54,226.85 L77.36,227.51 L77.21,228.17 L77.11,228.85 L77.04,229.52 L77.01,230.19 L77.00,230.87 L77.03,231.54 L77.09,232.20 L77.18,232.86 L77.30,233.52 L77.46,234.17 L77.66,234.81 L77.89,235.45 L78.17,236.06 L78.50,236.66 L78.88,237.24 L79.31,237.80 L79.82,238.31 L80.45,238.76 L81.60,238.90 L81.60,238.90 L82.15,237.90 L82.22,237.20 L82.22,236.57 L82.20,235.98 L82.17,235.42 L82.14,234.89 L82.11,234.38 L82.08,233.88 L82.07,233.40 L82.06,232.93 L82.07,232.47 L82.10,232.02 L82.14,231.57 L82.20,231.13 L82.27,230.70 L82.37,230.27 L82.48,229.85 L82.61,229.42 L82.74,229.00 L82.88,228.57 L83.02,228.13 L83.16,227.68 L83.28,227.20 L83.38,226.70 L83.45,226.14 L83.45,225.52 L83.32,224.77 L82.40,223.40 Z" fill="#2a2a2a" filter="url(#bl)"/>
<path d="M79.81,224.88 L79.53,225.47 L79.27,226.06 L79.03,226.66 L78.83,227.26 L78.65,227.86 L78.49,228.47 L78.36,229.08 L78.26,229.69 L78.19,230.31 L78.15,230.92 L78.13,231.54 L78.14,232.16 L78.17,232.78 L78.24,233.41 L78.33,234.03 L78.44,234.65 L78.59,235.27 L78.76,235.89 L78.96,236.51 L79.18,237.13 L80.73,236.54 L80.53,235.98 L80.35,235.42 L80.20,234.86 L80.07,234.31 L79.97,233.75 L79.89,233.20 L79.83,232.65 L79.80,232.10 L79.79,231.56 L79.81,231.01 L79.85,230.47 L79.91,229.92 L80.00,229.38 L80.11,228.84 L80.25,228.31 L80.41,227.77 L80.60,227.23 L80.80,226.70 L81.04,226.17 L81.30,225.64 Z" fill="#5a5a5a" opacity="0.55" filter="url(#bl)"/>
<path d="M92.20,222.80 L90.74,222.52 L90.02,222.81 L89.45,223.23 L88.99,223.73 L88.61,224.27 L88.30,224.86 L88.06,225.47 L87.87,226.10 L87.73,226.74 L87.65,227.40 L87.60,228.05 L87.60,228.71 L87.64,229.37 L87.71,230.03 L87.82,230.69 L87.95,231.34 L88.13,232.00 L88.34,232.64 L88.58,233.28 L88.87,233.92 L89.19,234.54 L89.56,235.15 L89.98,235.74 L90.45,236.31 L90.99,236.85 L91.60,237.35 L92.33,237.77 L93.60,237.80 L93.60,237.80 L94.03,236.62 L93.97,235.84 L93.85,235.15 L93.70,234.51 L93.55,233.91 L93.40,233.35 L93.26,232.81 L93.13,232.30 L93.01,231.80 L92.91,231.33 L92.82,230.87 L92.76,230.42 L92.71,229.99 L92.69,229.57 L92.69,229.16 L92.71,228.76 L92.74,228.38 L92.79,228.00 L92.85,227.63 L92.92,227.25 L92.99,226.88 L93.06,226.50 L93.12,226.10 L93.17,225.67 L93.18,225.20 L93.15,224.67 L93.02,224.01 L92.20,222.80 Z" fill="#2a2a2a" filter="url(#bl)"/>
<path d="M89.81,224.11 L89.57,224.66 L89.36,225.22 L89.18,225.79 L89.03,226.37 L88.91,226.95 L88.83,227.54 L88.78,228.13 L88.76,228.73 L88.77,229.33 L88.81,229.93 L88.88,230.54 L88.98,231.15 L89.11,231.76 L89.28,232.37 L89.47,232.99 L89.69,233.60 L89.94,234.22 L90.21,234.84 L90.52,235.47 L90.85,236.09 L92.25,235.32 L91.94,234.74 L91.66,234.16 L91.41,233.60 L91.18,233.04 L90.98,232.48 L90.81,231.93 L90.67,231.38 L90.55,230.84 L90.46,230.31 L90.40,229.78 L90.36,229.26 L90.36,228.74 L90.37,228.23 L90.42,227.72 L90.49,227.22 L90.59,226.72 L90.72,226.23 L90.87,225.74 L91.05,225.26 L91.26,224.78 Z" fill="#5a5a5a" opacity="0.55" filter="url(#bl)"/>
<path d="M103.20,222.80 L102.05,223.18 L101.59,223.69 L101.29,224.23 L101.07,224.77 L100.92,225.32 L100.82,225.86 L100.76,226.39 L100.74,226.92 L100.75,227.44 L100.78,227.94 L100.83,228.44 L100.90,228.92 L100.98,229.40 L101.07,229.86 L101.16,230.32 L101.25,230.77 L101.35,231.21 L101.45,231.65 L101.54,232.08 L101.64,232.50 L101.74,232.93 L101.84,233.35 L101.95,233.76 L102.06,234.18 L102.18,234.59 L102.32,235.01 L102.47,235.44 L102.65,235.87 L102.86,236.31 L103.14,236.77 L103.53,237.26 L104.60,237.80 L104.60,237.80 L105.69,237.27 L106.07,236.71 L106.31,236.14 L106.46,235.58 L106.55,235.03 L106.60,234.49 L106.61,233.96 L106.59,233.44 L106.54,232.94 L106.48,232.45 L106.41,231.98 L106.32,231.51 L106.23,231.06 L106.13,230.61 L106.04,230.18 L105.95,229.76 L105.86,229.34 L105.77,228.93 L105.69,228.52 L105.61,228.12 L105.54,227.72 L105.46,227.33 L105.39,226.94 L105.31,226.55 L105.22,226.15 L105.13,225.75 L105.02,225.34 L104.89,224.92 L104.73,224.47 L104.51,224.00 L104.19,223.48 L103.20,222.80 Z" fill="#2a2a2a" filter="url(#bl)"/>
<path d="M116.20,224.00 L114.58,223.71 L113.84,223.99 L113.27,224.40 L112.81,224.87 L112.43,225.38 L112.12,225.92 L111.86,226.49 L111.64,227.07 L111.46,227.66 L111.32,228.26 L111.21,228.86 L111.12,229.47 L111.06,230.07 L111.02,230.68 L111.00,231.28 L111.00,231.88 L111.03,232.48 L111.08,233.08 L111.16,233.67 L111.27,234.26 L111.42,234.85 L111.60,235.43 L111.82,235.99 L112.08,236.54 L112.41,237.08 L112.80,237.58 L113.32,238.05 L114.40,238.30 L114.40,238.30 L115.14,237.49 L115.35,236.89 L115.48,236.34 L115.56,235.82 L115.63,235.32 L115.69,234.84 L115.73,234.38 L115.78,233.92 L115.83,233.47 L115.88,233.03 L115.94,232.60 L116.01,232.17 L116.09,231.74 L116.18,231.32 L116.29,230.91 L116.40,230.50 L116.53,230.09 L116.67,229.68 L116.81,229.27 L116.96,228.86 L117.09,228.43 L117.22,228.00 L117.33,227.55 L117.41,227.07 L117.44,226.55 L117.40,225.97 L117.22,225.27 L116.20,224.00 Z" fill="#2a2a2a" filter="url(#bl)"/>
<path d="M113.80,225.34 L113.55,225.88 L113.32,226.41 L113.11,226.96 L112.92,227.50 L112.74,228.05 L112.59,228.60 L112.45,229.15 L112.33,229.70 L112.24,230.26 L112.16,230.82 L112.09,231.38 L112.05,231.94 L112.03,232.50 L112.03,233.07 L112.04,233.64 L112.07,234.20 L112.13,234.77 L112.20,235.34 L112.29,235.91 L112.40,236.48 L114.03,236.14 L113.93,235.62 L113.85,235.11 L113.78,234.59 L113.73,234.08 L113.70,233.56 L113.69,233.05 L113.69,232.54 L113.71,232.04 L113.75,231.53 L113.81,231.03 L113.88,230.52 L113.97,230.02 L114.07,229.52 L114.20,229.02 L114.34,228.53 L114.50,228.03 L114.67,227.53 L114.86,227.04 L115.07,226.55 L115.30,226.06 Z" fill="#5a5a5a" opacity="0.55" filter="url(#bl)"/>
<path d="M29.80,257.20 L27.79,257.00 L26.61,257.55 L25.63,258.24 L24.78,259.02 L24.04,259.86 L23.40,260.74 L22.84,261.66 L22.36,262.60 L21.96,263.56 L21.64,264.53 L21.39,265.52 L21.22,266.51 L21.12,267.51 L21.10,268.50 L21.15,269.49 L21.27,270.47 L21.47,271.44 L21.75,272.38 L22.11,273.31 L22.55,274.19 L23.07,275.04 L23.67,275.85 L24.35,276.59 L25.11,277.28 L25.97,277.87 L26.94,278.36 L28.05,278.68 L29.80,278.20 L29.80,278.20 L30.06,276.44 L29.80,275.46 L29.50,274.64 L29.20,273.91 L28.92,273.24 L28.66,272.63 L28.43,272.06 L28.24,271.51 L28.07,270.99 L27.93,270.49 L27.82,269.99 L27.75,269.50 L27.71,269.00 L27.70,268.50 L27.73,267.99 L27.80,267.46 L27.90,266.91 L28.04,266.34 L28.22,265.74 L28.43,265.11 L28.66,264.44 L28.93,263.73 L29.22,262.98 L29.53,262.16 L29.83,261.27 L30.12,260.28 L30.32,259.12 L29.80,257.20 Z" fill="#2a2a2a" filter="url(#bl)"/>
<path d="M25.61,259.57 L25.05,260.47 L24.54,261.36 L24.08,262.25 L23.68,263.15 L23.34,264.04 L23.06,264.93 L22.84,265.83 L22.68,266.72 L22.58,267.61 L22.55,268.50 L22.58,269.38 L22.68,270.26 L22.85,271.12 L23.07,271.98 L23.37,272.82 L23.72,273.64 L24.14,274.45 L24.61,275.24 L25.14,276.01 L25.73,276.77 L27.36,275.42 L26.84,274.76 L26.39,274.10 L25.98,273.42 L25.63,272.74 L25.33,272.05 L25.09,271.36 L24.91,270.65 L24.77,269.94 L24.69,269.23 L24.66,268.50 L24.69,267.77 L24.77,267.02 L24.91,266.27 L25.09,265.51 L25.34,264.73 L25.64,263.95 L25.99,263.16 L26.40,262.36 L26.86,261.56 L27.38,260.74 Z" fill="#5a5a5a" opacity="0.55" filter="url(#bl)"/>
<path d="M43.60,251.20 L41.00,251.47 L39.69,252.46 L38.68,253.59 L37.87,254.79 L37.20,256.04 L36.66,257.32 L36.23,258.61 L35.91,259.92 L35.69,261.22 L35.55,262.52 L35.50,263.81 L35.54,265.09 L35.65,266.35 L35.84,267.60 L36.11,268.82 L36.46,270.01 L36.88,271.18 L37.38,272.31 L37.97,273.40 L38.63,274.44 L39.39,275.43 L40.22,276.36 L41.14,277.22 L42.15,278.00 L43.25,278.67 L44.46,279.22 L45.81,279.56 L47.80,279.00 L47.80,279.00 L47.86,276.98 L47.41,275.82 L46.94,274.83 L46.47,273.92 L46.04,273.08 L45.63,272.28 L45.26,271.52 L44.93,270.77 L44.64,270.04 L44.38,269.32 L44.16,268.60 L43.98,267.88 L43.85,267.15 L43.76,266.40 L43.71,265.64 L43.70,264.86 L43.74,264.05 L43.81,263.22 L43.92,262.36 L44.06,261.47 L44.22,260.54 L44.39,259.55 L44.58,258.52 L44.75,257.41 L44.90,256.23 L44.98,254.92 L44.88,253.44 L43.60,251.20 Z" fill="#2a2a2a" filter="url(#bl)"/>
<path d="M39.22,255.30 L38.76,256.57 L38.37,257.82 L38.05,259.05 L37.78,260.27 L37.58,261.49 L37.45,262.68 L37.38,263.87 L37.38,265.04 L37.45,266.20 L37.59,267.33 L37.79,268.46 L38.07,269.56 L38.41,270.64 L38.82,271.70 L39.30,272.73 L39.85,273.74 L40.46,274.72 L41.14,275.67 L41.88,276.60 L42.68,277.49 L44.54,275.74 L43.83,274.94 L43.18,274.13 L42.59,273.30 L42.06,272.45 L41.59,271.58 L41.18,270.69 L40.82,269.78 L40.53,268.86 L40.29,267.92 L40.12,266.95 L40.00,265.97 L39.94,264.97 L39.94,263.94 L40.00,262.90 L40.12,261.84 L40.30,260.75 L40.54,259.65 L40.83,258.53 L41.19,257.38 L41.61,256.22 Z" fill="#5a5a5a" opacity="0.55" filter="url(#bl)"/>
<path d="M57.40,256.80 L55.30,257.10 L54.44,257.82 L53.84,258.65 L53.41,259.53 L53.10,260.45 L52.89,261.38 L52.77,262.33 L52.72,263.29 L52.74,264.25 L52.82,265.21 L52.96,266.16 L53.14,267.11 L53.37,268.05 L53.63,268.99 L53.94,269.92 L54.28,270.84 L54.67,271.75 L55.09,272.65 L55.56,273.54 L56.09,274.41 L56.66,275.27 L57.29,276.09 L57.99,276.88 L58.75,277.64 L59.60,278.33 L60.56,278.95 L61.69,279.42 L63.60,279.20 L63.60,279.20 L64.16,277.38 L64.00,276.25 L63.74,275.27 L63.44,274.36 L63.13,273.52 L62.80,272.71 L62.49,271.93 L62.18,271.19 L61.89,270.46 L61.62,269.75 L61.37,269.05 L61.14,268.36 L60.94,267.68 L60.77,267.01 L60.62,266.35 L60.51,265.69 L60.42,265.04 L60.34,264.39 L60.29,263.75 L60.23,263.11 L60.18,262.47 L60.12,261.82 L60.05,261.15 L59.93,260.47 L59.76,259.75 L59.50,258.98 L59.03,258.10 L57.40,256.80 Z" fill="#2a2a2a" filter="url(#bl)"/>
<path d="M54.62,259.70 L54.51,260.59 L54.44,261.48 L54.40,262.36 L54.41,263.25 L54.45,264.14 L54.52,265.02 L54.64,265.91 L54.79,266.79 L54.98,267.67 L55.20,268.55 L55.46,269.43 L55.76,270.30 L56.09,271.17 L56.46,272.04 L56.87,272.91 L57.30,273.77 L57.78,274.63 L58.28,275.48 L58.82,276.34 L59.40,277.19 L61.34,275.83 L60.80,275.04 L60.30,274.25 L59.83,273.45 L59.40,272.66 L58.99,271.87 L58.63,271.08 L58.29,270.29 L57.99,269.50 L57.72,268.71 L57.49,267.92 L57.28,267.13 L57.12,266.34 L56.98,265.56 L56.88,264.77 L56.81,263.98 L56.77,263.19 L56.77,262.41 L56.80,261.62 L56.87,260.83 L56.96,260.04 Z" fill="#5a5a5a" opacity="0.55" filter="url(#bl)"/>
<path d="M83.60,260.80 L82.22,261.00 L81.63,261.54 L81.22,262.15 L80.94,262.80 L80.75,263.46 L80.63,264.14 L80.58,264.81 L80.59,265.47 L80.63,266.12 L80.71,266.76 L80.81,267.39 L80.94,268.01 L81.08,268.61 L81.23,269.21 L81.38,269.79 L81.53,270.37 L81.68,270.93 L81.82,271.49 L81.96,272.04 L82.09,272.58 L82.22,273.12 L82.33,273.64 L82.45,274.15 L82.56,274.66 L82.67,275.17 L82.78,275.67 L82.91,276.18 L83.04,276.69 L83.21,277.23 L83.43,277.81 L83.75,278.46 L84.80,279.40 L84.80,279.40 L86.20,279.05 L86.79,278.42 L87.20,277.73 L87.49,277.01 L87.69,276.28 L87.81,275.55 L87.87,274.82 L87.88,274.11 L87.84,273.40 L87.76,272.71 L87.66,272.04 L87.54,271.39 L87.40,270.75 L87.25,270.13 L87.10,269.52 L86.94,268.93 L86.79,268.36 L86.65,267.80 L86.50,267.26 L86.37,266.73 L86.24,266.23 L86.12,265.74 L86.01,265.27 L85.89,264.81 L85.78,264.37 L85.66,263.95 L85.53,263.53 L85.39,263.11 L85.21,262.67 L84.98,262.21 L84.65,261.67 L83.60,260.80 Z" fill="#2a2a2a" filter="url(#bl)"/>
<path d="M99.90,260.00 L97.69,259.37 L96.55,259.71 L95.63,260.25 L94.87,260.91 L94.23,261.65 L93.69,262.45 L93.24,263.30 L92.88,264.18 L92.60,265.08 L92.40,266.00 L92.28,266.93 L92.22,267.86 L92.23,268.79 L92.31,269.72 L92.44,270.63 L92.64,271.53 L92.90,272.41 L93.23,273.27 L93.62,274.10 L94.07,274.91 L94.59,275.68 L95.17,276.41 L95.82,277.10 L96.55,277.74 L97.36,278.31 L98.26,278.80 L99.31,279.14 L101.00,278.80 L101.00,278.80 L101.39,277.15 L101.22,276.17 L101.00,275.34 L100.78,274.59 L100.56,273.90 L100.36,273.26 L100.19,272.67 L100.04,272.11 L99.91,271.59 L99.81,271.09 L99.74,270.61 L99.70,270.16 L99.68,269.71 L99.69,269.28 L99.74,268.86 L99.80,268.45 L99.90,268.03 L100.01,267.61 L100.14,267.18 L100.28,266.73 L100.43,266.25 L100.59,265.74 L100.74,265.18 L100.88,264.56 L101.00,263.86 L101.05,263.03 L100.96,262.00 L99.90,260.00 Z" fill="#2a2a2a" filter="url(#bl)"/>
<path d="M96.11,261.66 L95.66,262.43 L95.27,263.20 L94.92,263.99 L94.62,264.78 L94.37,265.58 L94.18,266.38 L94.04,267.19 L93.95,268.00 L93.91,268.81 L93.93,269.62 L94.01,270.43 L94.14,271.24 L94.32,272.04 L94.55,272.83 L94.84,273.61 L95.18,274.39 L95.56,275.16 L96.00,275.91 L96.48,276.66 L97.00,277.40 L98.90,275.99 L98.44,275.34 L98.02,274.69 L97.65,274.03 L97.32,273.38 L97.04,272.73 L96.80,272.08 L96.61,271.43 L96.46,270.78 L96.36,270.13 L96.30,269.48 L96.28,268.83 L96.31,268.18 L96.38,267.52 L96.50,266.87 L96.66,266.21 L96.86,265.55 L97.11,264.89 L97.41,264.22 L97.75,263.56 L98.13,262.89 Z" fill="#5a5a5a" opacity="0.55" filter="url(#bl)"/>
<path d="M113.00,260.20 L111.03,260.19 L110.12,260.75 L109.43,261.41 L108.88,262.14 L108.44,262.91 L108.08,263.71 L107.80,264.53 L107.59,265.36 L107.43,266.19 L107.34,267.03 L107.29,267.86 L107.29,268.69 L107.33,269.52 L107.42,270.33 L107.54,271.14 L107.71,271.94 L107.92,272.73 L108.17,273.51 L108.48,274.26 L108.83,274.99 L109.24,275.70 L109.71,276.37 L110.24,277.01 L110.83,277.59 L111.50,278.10 L112.27,278.53 L113.19,278.80 L114.80,278.40 L114.80,278.40 L115.43,276.89 L115.43,276.04 L115.34,275.33 L115.22,274.70 L115.08,274.12 L114.95,273.57 L114.81,273.05 L114.68,272.55 L114.56,272.06 L114.45,271.58 L114.35,271.10 L114.28,270.63 L114.22,270.15 L114.18,269.67 L114.17,269.18 L114.18,268.68 L114.21,268.18 L114.26,267.66 L114.32,267.13 L114.38,266.59 L114.45,266.02 L114.52,265.43 L114.57,264.81 L114.60,264.14 L114.59,263.42 L114.50,262.62 L114.25,261.70 L113.00,260.20 Z" fill="#2a2a2a" filter="url(#bl)"/>
<path d="M109.94,262.51 L109.68,263.30 L109.46,264.08 L109.27,264.86 L109.11,265.63 L108.99,266.40 L108.90,267.17 L108.85,267.93 L108.83,268.69 L108.85,269.44 L108.91,270.19 L109.00,270.93 L109.13,271.66 L109.29,272.39 L109.49,273.10 L109.73,273.81 L110.00,274.51 L110.31,275.19 L110.65,275.87 L111.02,276.54 L111.43,277.19 L113.25,275.99 L112.89,275.42 L112.57,274.84 L112.27,274.26 L112.01,273.67 L111.77,273.07 L111.57,272.46 L111.40,271.85 L111.26,271.23 L111.15,270.61 L111.07,269.97 L111.02,269.33 L111.01,268.69 L111.02,268.03 L111.07,267.37 L111.14,266.70 L111.25,266.02 L111.39,265.33 L111.56,264.64 L111.76,263.94 L112.00,263.23 Z" fill="#5a5a5a" opacity="0.55" filter="url(#bl)"/>
<line x1="26.30" y1="242.40" x2="57.40" y2="242.40" stroke="#111" stroke-width="1.2" />
<line x1="78.00" y1="242.40" x2="115.70" y2="242.40" stroke="#111" stroke-width="1.2" />
<line x1="27.20" y1="283.20" x2="61.30" y2="283.20" stroke="#111" stroke-width="1.2" />
<line x1="81.90" y1="283.20" x2="117.00" y2="283.20" stroke="#111" stroke-width="1.2" />
<line x1="70.45" y1="219.80" x2="70.45" y2="294.00" stroke="#111" stroke-width="1.4" stroke-dasharray="2.1,0.95"/>
<text x="0" y="0" font-size="8.0" text-anchor="middle" dominant-baseline="central" fill="#f0f0f0" stroke="#f0f0f0" stroke-width="1.4" stroke-linejoin="round" opacity="0.6" filter="url(#bl)" transform="translate(41.60 213.00) scale(0.83 1)">Vehicle</text>
<text x="0" y="0" font-size="8.0" text-anchor="middle" dominant-baseline="central" fill="#141414" stroke="#141414" stroke-width="0.22" transform="translate(41.60 213.00) scale(0.83 1)">Vehicle</text>
<text x="0" y="0" font-size="8.0" text-anchor="middle" dominant-baseline="central" fill="#f0f0f0" stroke="#f0f0f0" stroke-width="1.4" stroke-linejoin="round" opacity="0.6" filter="url(#bl)" transform="translate(97.40 213.10) scale(0.81 1)">Pioglitazone</text>
<text x="0" y="0" font-size="8.0" text-anchor="middle" dominant-baseline="central" fill="#141414" stroke="#141414" stroke-width="0.22" transform="translate(97.40 213.10) scale(0.81 1)">Pioglitazone</text>
<text x="0" y="0" font-size="8.0" text-anchor="middle" dominant-baseline="central" fill="#f0f0f0" stroke="#f0f0f0" stroke-width="1.4" stroke-linejoin="round" opacity="0.6" filter="url(#bl)" transform="translate(43.20 246.50) scale(0.81 1)">Healthy</text>
<text x="0" y="0" font-size="8.0" text-anchor="middle" dominant-baseline="central" fill="#141414" stroke="#141414" stroke-width="0.4" transform="translate(43.20 246.50) scale(0.81 1)">Healthy</text>
<text x="0" y="0" font-size="8.0" text-anchor="middle" dominant-baseline="central" fill="#f0f0f0" stroke="#f0f0f0" stroke-width="1.4" stroke-linejoin="round" opacity="0.6" filter="url(#bl)" transform="translate(98.90 246.40) scale(0.81 1)">Healthy</text>
<text x="0" y="0" font-size="8.0" text-anchor="middle" dominant-baseline="central" fill="#141414" stroke="#141414" stroke-width="0.4" transform="translate(98.90 246.40) scale(0.81 1)">Healthy</text>
<text x="0" y="0" font-size="7.8" text-anchor="middle" dominant-baseline="central" fill="#f0f0f0" stroke="#f0f0f0" stroke-width="1.4" stroke-linejoin="round" opacity="0.6" filter="url(#bl)" transform="translate(44.10 287.90) scale(0.73 1)">BCR-ABL</text>
<text x="0" y="0" font-size="7.8" text-anchor="middle" dominant-baseline="central" fill="#141414" stroke="#141414" stroke-width="0.4" transform="translate(44.10 287.90) scale(0.73 1)">BCR-ABL</text>
<text x="0" y="0" font-size="7.8" text-anchor="middle" dominant-baseline="central" fill="#f0f0f0" stroke="#f0f0f0" stroke-width="1.4" stroke-linejoin="round" opacity="0.6" filter="url(#bl)" transform="translate(99.20 288.00) scale(0.73 1)">BCR-ABL</text>
<text x="0" y="0" font-size="7.8" text-anchor="middle" dominant-baseline="central" fill="#141414" stroke="#141414" stroke-width="0.4" transform="translate(99.20 288.00) scale(0.73 1)">BCR-ABL</text>
<line x1="169.70" y1="197.60" x2="169.70" y2="295.75" stroke="#111111" stroke-width="1.35" />
<line x1="166.30" y1="295.25" x2="169.70" y2="295.25" stroke="#111111" stroke-width="1.35" />
<text x="162.70" y="295.25" font-size="8.3" text-anchor="end" dominant-baseline="central" fill="#111111" stroke="#111111" stroke-width="0.16">0.0</text>
<line x1="166.30" y1="263.77" x2="169.70" y2="263.77" stroke="#111111" stroke-width="1.35" />
<text x="162.70" y="263.77" font-size="8.3" text-anchor="end" dominant-baseline="central" fill="#111111" stroke="#111111" stroke-width="0.16">0.5</text>
<line x1="166.30" y1="232.29" x2="169.70" y2="232.29" stroke="#111111" stroke-width="1.35" />
<text x="162.70" y="232.29" font-size="8.3" text-anchor="end" dominant-baseline="central" fill="#111111" stroke="#111111" stroke-width="0.16">1.0</text>
<line x1="166.30" y1="200.81" x2="169.70" y2="200.81" stroke="#111111" stroke-width="1.35" />
<text x="162.70" y="200.81" font-size="8.3" text-anchor="end" dominant-baseline="central" fill="#111111" stroke="#111111" stroke-width="0.16">1.5</text>
<line x1="169.20" y1="295.35" x2="264.50" y2="295.35" stroke="#111111" stroke-width="1.35" />
<line x1="181.40" y1="295.35" x2="181.40" y2="298.35" stroke="#111111" stroke-width="1.35" />
<line x1="205.20" y1="295.35" x2="205.20" y2="298.35" stroke="#111111" stroke-width="1.35" />
<line x1="229.00" y1="295.35" x2="229.00" y2="298.35" stroke="#111111" stroke-width="1.35" />
<line x1="252.70" y1="295.35" x2="252.70" y2="298.35" stroke="#111111" stroke-width="1.35" />
<text x="0" y="0" font-size="9.0" text-anchor="middle" dominant-baseline="central" font-weight="normal" fill="#111111" stroke="#111111" stroke-width="0.16" transform="translate(144.20 246.50) rotate(-90)" >Spleen weight (g)</text>
<text x="131.40" y="309.50" font-size="8.6" text-anchor="start" font-weight="normal" fill="#111111" stroke="#111111" stroke-width="0.16" >BCR-ABL</text>
<text x="131.40" y="320.10" font-size="8.5" text-anchor="start" font-weight="normal" fill="#111111" stroke="#111111" stroke-width="0.16" >Pioglitizone</text>
<text x="0" y="0" font-size="8" text-anchor="middle" dominant-baseline="central" font-weight="normal" fill="#111111" stroke="#111111" stroke-width="0.16" transform="translate(181.40 306.60) rotate(0)" >-</text>
<text x="0" y="0" font-size="8" text-anchor="middle" dominant-baseline="central" font-weight="normal" fill="#111111" stroke="#111111" stroke-width="0.16" transform="translate(181.40 316.90) rotate(0)" >-</text>
<text x="0" y="0" font-size="8" text-anchor="middle" dominant-baseline="central" font-weight="normal" fill="#111111" stroke="#111111" stroke-width="0.16" transform="translate(205.20 306.60) rotate(0)" >-</text>
<text x="0" y="0" font-size="8" text-anchor="middle" dominant-baseline="central" font-weight="normal" fill="#111111" stroke="#111111" stroke-width="0.16" transform="translate(205.20 316.90) rotate(0)" >+</text>
<text x="0" y="0" font-size="8" text-anchor="middle" dominant-baseline="central" font-weight="normal" fill="#111111" stroke="#111111" stroke-width="0.16" transform="translate(229.00 306.60) rotate(0)" >+</text>
<text x="0" y="0" font-size="8" text-anchor="middle" dominant-baseline="central" font-weight="normal" fill="#111111" stroke="#111111" stroke-width="0.16" transform="translate(229.00 316.90) rotate(0)" >-</text>
<text x="0" y="0" font-size="8" text-anchor="middle" dominant-baseline="central" font-weight="normal" fill="#111111" stroke="#111111" stroke-width="0.16" transform="translate(252.60 306.60) rotate(0)" >+</text>
<text x="0" y="0" font-size="8" text-anchor="middle" dominant-baseline="central" font-weight="normal" fill="#111111" stroke="#111111" stroke-width="0.16" transform="translate(252.60 316.90) rotate(0)" >+</text>
<line x1="173.50" y1="288.50" x2="189.30" y2="288.50" stroke="#111111" stroke-width="1.35" />
<line x1="181.40" y1="287.60" x2="181.40" y2="289.40" stroke="#111111" stroke-width="1.35" />
<line x1="178.90" y1="287.60" x2="183.90" y2="287.60" stroke="#111111" stroke-width="1.35" />
<line x1="178.90" y1="289.40" x2="183.90" y2="289.40" stroke="#111111" stroke-width="1.35" />
<circle cx="177.20" cy="287.00" r="1.7" fill="#8e0f36"/>
<circle cx="181.40" cy="290.00" r="1.7" fill="#8e0f36"/>
<circle cx="186.70" cy="287.30" r="1.7" fill="#8e0f36"/>
<line x1="197.30" y1="288.20" x2="213.10" y2="288.20" stroke="#111111" stroke-width="1.35" />
<line x1="205.20" y1="287.70" x2="205.20" y2="288.70" stroke="#111111" stroke-width="1.35" />
<line x1="202.70" y1="287.70" x2="207.70" y2="287.70" stroke="#111111" stroke-width="1.35" />
<line x1="202.70" y1="288.70" x2="207.70" y2="288.70" stroke="#111111" stroke-width="1.35" />
<circle cx="198.90" cy="287.90" r="1.7" fill="white" stroke="#1f2d58" stroke-width="1.15"/>
<circle cx="203.10" cy="289.40" r="1.7" fill="white" stroke="#1f2d58" stroke-width="1.15"/>
<circle cx="207.30" cy="288.60" r="1.7" fill="white" stroke="#1f2d58" stroke-width="1.15"/>
<circle cx="211.60" cy="286.90" r="1.7" fill="white" stroke="#1f2d58" stroke-width="1.15"/>
<line x1="221.25" y1="244.90" x2="237.15" y2="244.90" stroke="#111111" stroke-width="1.35" />
<line x1="229.20" y1="239.20" x2="229.20" y2="250.30" stroke="#111111" stroke-width="1.35" />
<line x1="225.70" y1="239.20" x2="232.70" y2="239.20" stroke="#111111" stroke-width="1.35" />
<line x1="225.70" y1="250.30" x2="232.70" y2="250.30" stroke="#111111" stroke-width="1.35" />
<rect x="229.60" y="224.70" width="3.6" height="3.6" fill="#65984f"/>
<rect x="224.20" y="228.80" width="3.6" height="3.6" fill="#65984f"/>
<rect x="228.60" y="235.20" width="3.6" height="3.6" fill="#65984f"/>
<rect x="224.80" y="247.80" width="3.6" height="3.6" fill="#65984f"/>
<rect x="230.50" y="253.20" width="3.6" height="3.6" fill="#65984f"/>
<rect x="226.40" y="267.50" width="3.6" height="3.6" fill="#65984f"/>
<rect x="223.20" y="241.20" width="3.6" height="3.6" fill="#65984f"/>
<line x1="244.95" y1="271.50" x2="260.85" y2="271.50" stroke="#111111" stroke-width="1.35" />
<line x1="252.90" y1="266.10" x2="252.90" y2="276.30" stroke="#111111" stroke-width="1.35" />
<line x1="249.40" y1="266.10" x2="256.40" y2="266.10" stroke="#111111" stroke-width="1.35" />
<line x1="249.40" y1="276.30" x2="256.40" y2="276.30" stroke="#111111" stroke-width="1.35" />
<rect x="253.30" y="259.50" width="3.8" height="3.8" fill="white" stroke="#3f2c60" stroke-width="1.15"/>
<rect x="247.90" y="262.70" width="3.8" height="3.8" fill="white" stroke="#3f2c60" stroke-width="1.15"/>
<rect x="250.10" y="273.80" width="3.8" height="3.8" fill="white" stroke="#3f2c60" stroke-width="1.15"/>
<rect x="250.10" y="280.70" width="3.8" height="3.8" fill="white" stroke="#3f2c60" stroke-width="1.15"/>
<line x1="229.20" y1="217.90" x2="253.00" y2="217.90" stroke="#111111" stroke-width="1.35" />
<circle cx="240.90" cy="212.30" r="1.05" fill="#111"/>
<line x1="323.00" y1="197.50" x2="323.00" y2="295.90" stroke="#111111" stroke-width="1.35" />
<line x1="319.30" y1="295.40" x2="323.00" y2="295.40" stroke="#111111" stroke-width="1.35" />
<text x="316.00" y="295.40" font-size="8.3" text-anchor="end" dominant-baseline="central" fill="#111111" stroke="#111111" stroke-width="0.16">4</text>
<line x1="319.30" y1="279.57" x2="323.00" y2="279.57" stroke="#111111" stroke-width="1.35" />
<text x="316.00" y="279.57" font-size="8.3" text-anchor="end" dominant-baseline="central" fill="#111111" stroke="#111111" stroke-width="0.16">5</text>
<line x1="319.30" y1="263.74" x2="323.00" y2="263.74" stroke="#111111" stroke-width="1.35" />
<text x="316.00" y="263.74" font-size="8.3" text-anchor="end" dominant-baseline="central" fill="#111111" stroke="#111111" stroke-width="0.16">6</text>
<line x1="319.30" y1="247.91" x2="323.00" y2="247.91" stroke="#111111" stroke-width="1.35" />
<text x="316.00" y="247.91" font-size="8.3" text-anchor="end" dominant-baseline="central" fill="#111111" stroke="#111111" stroke-width="0.16">7</text>
<line x1="319.30" y1="232.08" x2="323.00" y2="232.08" stroke="#111111" stroke-width="1.35" />
<text x="316.00" y="232.08" font-size="8.3" text-anchor="end" dominant-baseline="central" fill="#111111" stroke="#111111" stroke-width="0.16">8</text>
<line x1="319.30" y1="216.25" x2="323.00" y2="216.25" stroke="#111111" stroke-width="1.35" />
<text x="316.00" y="216.25" font-size="8.3" text-anchor="end" dominant-baseline="central" fill="#111111" stroke="#111111" stroke-width="0.16">9</text>
<line x1="319.30" y1="200.42" x2="323.00" y2="200.42" stroke="#111111" stroke-width="1.35" />
<text x="316.00" y="200.42" font-size="8.3" text-anchor="end" dominant-baseline="central" fill="#111111" stroke="#111111" stroke-width="0.16">10</text>
<line x1="322.50" y1="295.40" x2="394.00" y2="295.40" stroke="#111111" stroke-width="1.35" />
<line x1="340.80" y1="295.40" x2="340.80" y2="298.40" stroke="#111111" stroke-width="1.35" />
<line x1="376.20" y1="295.40" x2="376.20" y2="298.40" stroke="#111111" stroke-width="1.35" />
<text x="0" y="0" font-size="9.0" text-anchor="middle" dominant-baseline="central" font-weight="normal" fill="#111111" stroke="#111111" stroke-width="0.16" transform="translate(285.40 246.00) rotate(-90)" >Spleen</text>
<text x="0" y="0" font-size="9.0" text-anchor="middle" dominant-baseline="central" font-weight="normal" fill="#111111" stroke="#111111" stroke-width="0.16" transform="translate(297.40 247.30) rotate(-90)" >% GFP<tspan font-size="6.3" dy="-2.8">+</tspan><tspan dy="2.8">sca-1</tspan><tspan font-size="6.3" dy="-2.8">+</tspan><tspan dy="2.8">c-kit</tspan><tspan font-size="6.3" dy="-2.8">+</tspan></text>
<line x1="329.65" y1="241.00" x2="351.75" y2="241.00" stroke="#111111" stroke-width="1.35" />
<line x1="340.70" y1="234.30" x2="340.70" y2="247.00" stroke="#111111" stroke-width="1.35" />
<line x1="336.95" y1="234.30" x2="344.45" y2="234.30" stroke="#111111" stroke-width="1.35" />
<line x1="336.95" y1="247.00" x2="344.45" y2="247.00" stroke="#111111" stroke-width="1.35" />
<circle cx="337.50" cy="222.20" r="1.9" fill="#8e0f36"/>
<circle cx="343.30" cy="225.80" r="1.9" fill="#8e0f36"/>
<circle cx="339.70" cy="240.40" r="1.9" fill="#8e0f36"/>
<circle cx="336.60" cy="245.80" r="1.9" fill="#8e0f36"/>
<circle cx="343.60" cy="247.00" r="1.9" fill="#8e0f36"/>
<circle cx="340.60" cy="263.60" r="1.9" fill="#8e0f36"/>
<line x1="364.85" y1="265.20" x2="387.15" y2="265.20" stroke="#111111" stroke-width="1.35" />
<line x1="376.00" y1="254.60" x2="376.00" y2="276.00" stroke="#111111" stroke-width="1.35" />
<line x1="372.25" y1="254.60" x2="379.75" y2="254.60" stroke="#111111" stroke-width="1.35" />
<line x1="372.25" y1="276.00" x2="379.75" y2="276.00" stroke="#111111" stroke-width="1.35" />
<rect x="374.00" y="230.90" width="3.8" height="3.8" fill="white" stroke="#45659c" stroke-width="1.05"/>
<rect x="368.90" y="271.10" width="3.8" height="3.8" fill="white" stroke="#45659c" stroke-width="1.05"/>
<rect x="374.00" y="275.40" width="3.8" height="3.8" fill="white" stroke="#45659c" stroke-width="1.05"/>
<rect x="380.10" y="275.40" width="3.8" height="3.8" fill="white" stroke="#45659c" stroke-width="1.05"/>
<line x1="340.60" y1="213.70" x2="375.90" y2="213.70" stroke="#111111" stroke-width="1.35" />
<circle cx="357.80" cy="207.80" r="1.05" fill="#111"/>
<text x="0" y="0" font-size="8.3" text-anchor="middle" dominant-baseline="central" font-weight="normal" fill="#111111" stroke="#111111" stroke-width="0.16" transform="translate(329.20 313.00) rotate(-45)" >Se-A</text>
<text x="0" y="0" font-size="8.3" text-anchor="middle" dominant-baseline="central" font-weight="normal" fill="#111111" stroke="#111111" stroke-width="0.16" transform="translate(336.40 319.90) rotate(-45)" >Vehicle</text>
<text x="0" y="0" font-size="8.3" text-anchor="middle" dominant-baseline="central" font-weight="normal" fill="#111111" stroke="#111111" stroke-width="0.16" transform="translate(364.70 313.00) rotate(-45)" >Se-A</text>
<text x="0" y="0" font-size="8.3" text-anchor="middle" dominant-baseline="central" font-weight="normal" fill="#111111" stroke="#111111" stroke-width="0.16" transform="translate(371.90 319.90) rotate(-45)" >Pioglitazone</text>
<line x1="441.40" y1="197.20" x2="441.40" y2="295.90" stroke="#111111" stroke-width="1.35" />
<line x1="438.10" y1="295.40" x2="441.40" y2="295.40" stroke="#111111" stroke-width="1.35" />
<text x="435.00" y="295.40" font-size="8.3" text-anchor="end" dominant-baseline="central" fill="#111111" stroke="#111111" stroke-width="0.16">0</text>
<line x1="438.10" y1="276.40" x2="441.40" y2="276.40" stroke="#111111" stroke-width="1.35" />
<text x="435.00" y="276.40" font-size="8.3" text-anchor="end" dominant-baseline="central" fill="#111111" stroke="#111111" stroke-width="0.16">1</text>
<line x1="438.10" y1="257.40" x2="441.40" y2="257.40" stroke="#111111" stroke-width="1.35" />
<text x="435.00" y="257.40" font-size="8.3" text-anchor="end" dominant-baseline="central" fill="#111111" stroke="#111111" stroke-width="0.16">2</text>
<line x1="438.10" y1="238.40" x2="441.40" y2="238.40" stroke="#111111" stroke-width="1.35" />
<text x="435.00" y="238.40" font-size="8.3" text-anchor="end" dominant-baseline="central" fill="#111111" stroke="#111111" stroke-width="0.16">3</text>
<line x1="438.10" y1="219.40" x2="441.40" y2="219.40" stroke="#111111" stroke-width="1.35" />
<text x="435.00" y="219.40" font-size="8.3" text-anchor="end" dominant-baseline="central" fill="#111111" stroke="#111111" stroke-width="0.16">4</text>
<line x1="438.10" y1="200.40" x2="441.40" y2="200.40" stroke="#111111" stroke-width="1.35" />
<text x="435.00" y="200.40" font-size="8.3" text-anchor="end" dominant-baseline="central" fill="#111111" stroke="#111111" stroke-width="0.16">5</text>
<line x1="440.90" y1="295.40" x2="512.70" y2="295.40" stroke="#111111" stroke-width="1.35" />
<line x1="459.40" y1="295.40" x2="459.40" y2="298.40" stroke="#111111" stroke-width="1.35" />
<line x1="494.60" y1="295.40" x2="494.60" y2="298.40" stroke="#111111" stroke-width="1.35" />
<text x="0" y="0" font-size="9.0" text-anchor="middle" dominant-baseline="central" font-weight="normal" fill="#111111" stroke="#111111" stroke-width="0.16" transform="translate(409.30 246.00) rotate(-90)" >Bone marrow</text>
<text x="0" y="0" font-size="9.0" text-anchor="middle" dominant-baseline="central" font-weight="normal" fill="#111111" stroke="#111111" stroke-width="0.16" transform="translate(420.30 247.50) rotate(-90)" >% GFP<tspan font-size="6.3" dy="-2.8">+</tspan><tspan dy="2.8">sca-1</tspan><tspan font-size="6.3" dy="-2.8">+</tspan><tspan dy="2.8">c-kit</tspan><tspan font-size="6.3" dy="-2.8">+</tspan></text>
<line x1="447.90" y1="226.90" x2="470.70" y2="226.90" stroke="#111111" stroke-width="1.35" />
<line x1="459.30" y1="220.00" x2="459.30" y2="234.00" stroke="#111111" stroke-width="1.35" />
<line x1="453.50" y1="220.00" x2="465.10" y2="220.00" stroke="#111111" stroke-width="1.35" />
<line x1="453.50" y1="234.00" x2="465.10" y2="234.00" stroke="#111111" stroke-width="1.35" />
<polygon points="457.30,213.31 461.10,213.31 459.20,209.89" fill="#a4163a"/>
<polygon points="457.30,220.71 461.10,220.71 459.20,217.29" fill="#a4163a"/>
<polygon points="454.60,240.41 458.40,240.41 456.50,236.99" fill="#a4163a"/>
<polygon points="460.10,240.41 463.90,240.41 462.00,236.99" fill="#a4163a"/>
<line x1="483.25" y1="253.90" x2="505.75" y2="253.90" stroke="#111111" stroke-width="1.35" />
<line x1="494.50" y1="247.90" x2="494.50" y2="259.80" stroke="#111111" stroke-width="1.35" />
<line x1="489.00" y1="247.90" x2="500.00" y2="247.90" stroke="#111111" stroke-width="1.35" />
<line x1="489.00" y1="259.80" x2="500.00" y2="259.80" stroke="#111111" stroke-width="1.35" />
<polygon points="492.45,236.55 496.35,236.55 494.40,240.06" fill="#cfe0f2" stroke="#2f5a96" stroke-width="1.0"/>
<polygon points="492.45,248.44 496.35,248.44 494.40,251.95" fill="#cfe0f2" stroke="#2f5a96" stroke-width="1.0"/>
<polygon points="489.55,261.64 493.45,261.64 491.50,265.15" fill="#cfe0f2" stroke="#2f5a96" stroke-width="1.0"/>
<polygon points="495.95,259.35 499.85,259.35 497.90,262.86" fill="#cfe0f2" stroke="#2f5a96" stroke-width="1.0"/>
<line x1="459.00" y1="207.30" x2="495.10" y2="207.30" stroke="#111111" stroke-width="1.35" />
<circle cx="477.20" cy="201.60" r="1.05" fill="#111"/>
<text x="0" y="0" font-size="8.3" text-anchor="middle" dominant-baseline="central" font-weight="normal" fill="#111111" stroke="#111111" stroke-width="0.16" transform="translate(448.00 312.90) rotate(-45)" >Se-A</text>
<text x="0" y="0" font-size="8.3" text-anchor="middle" dominant-baseline="central" font-weight="normal" fill="#111111" stroke="#111111" stroke-width="0.16" transform="translate(455.20 319.80) rotate(-45)" >Vehicle</text>
<text x="0" y="0" font-size="8.3" text-anchor="middle" dominant-baseline="central" font-weight="normal" fill="#111111" stroke="#111111" stroke-width="0.16" transform="translate(483.50 312.90) rotate(-45)" >Se-A</text>
<text x="0" y="0" font-size="8.3" text-anchor="middle" dominant-baseline="central" font-weight="normal" fill="#111111" stroke="#111111" stroke-width="0.16" transform="translate(490.70 319.80) rotate(-45)" >Pioglitazone</text>
<rect x="0" y="0" width="520" height="1.5" fill="#000"/>
<rect x="0" y="0" width="1.5" height="347" fill="#000"/>
<rect x="518.4" y="0" width="1.6" height="347" fill="#000"/>
<rect x="0" y="345.4" width="520" height="1.6" fill="#000"/>
</svg>
</body></html>
